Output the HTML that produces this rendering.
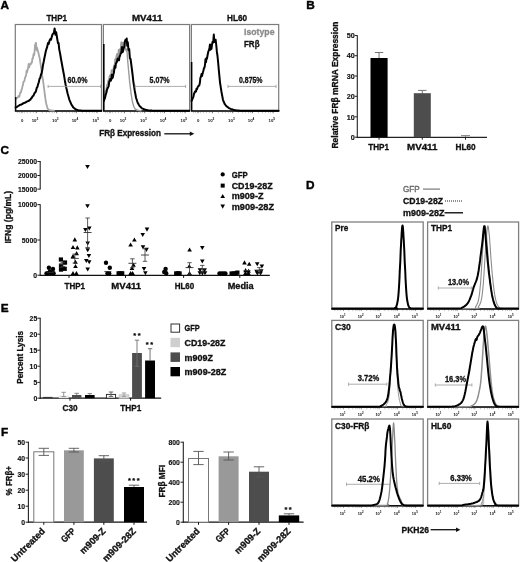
<!DOCTYPE html>
<html lang="en">
<head>
<meta charset="utf-8">
<title>Figure</title>
<style>
html,body{margin:0;padding:0;background:#fff;}
body{width:520px;height:562px;overflow:hidden;font-family:"Liberation Sans", sans-serif;}
svg{display:block;}
</style>
</head>
<body>
<svg width="520" height="562" viewBox="0 0 520 562" font-family='"Liberation Sans", sans-serif'>
<text x="0.6" y="9.2" font-size="11.8" font-weight="bold" fill="#000" stroke="#000" stroke-width="0.42">A</text>
<rect x="15.30" y="24.50" width="86.20" height="86.50" fill="none" stroke="#7c7c7c" stroke-width="1.2"/>
<rect x="103.40" y="24.50" width="86.20" height="86.50" fill="none" stroke="#7c7c7c" stroke-width="1.2"/>
<rect x="191.40" y="24.50" width="87.30" height="86.50" fill="none" stroke="#7c7c7c" stroke-width="1.2"/>
<text x="46.4" y="21.3" font-size="9.3" font-weight="bold" fill="#111" stroke="#111" stroke-width="0.33" textLength="20.6" lengthAdjust="spacingAndGlyphs">THP1</text>
<text x="132.0" y="21.3" font-size="9.3" font-weight="bold" fill="#111" stroke="#111" stroke-width="0.33" textLength="30.3" lengthAdjust="spacingAndGlyphs">MV411</text>
<text x="227.0" y="21.3" font-size="9.3" font-weight="bold" fill="#111" stroke="#111" stroke-width="0.33" textLength="20.0" lengthAdjust="spacingAndGlyphs">HL60</text>
<text x="22.1" y="121.6" font-size="4.3" font-weight="bold" fill="#111" text-anchor="middle">0</text>
<text x="35.0" y="121.6" font-size="4.3" font-weight="bold" fill="#111" text-anchor="middle">10<tspan dy="-1.6" font-size="3.2">2</tspan></text>
<text x="55.3" y="121.6" font-size="4.3" font-weight="bold" fill="#111" text-anchor="middle">10<tspan dy="-1.6" font-size="3.2">3</tspan></text>
<text x="75.0" y="121.6" font-size="4.3" font-weight="bold" fill="#111" text-anchor="middle">10<tspan dy="-1.6" font-size="3.2">4</tspan></text>
<text x="95.7" y="121.6" font-size="4.3" font-weight="bold" fill="#111" text-anchor="middle">10<tspan dy="-1.6" font-size="3.2">5</tspan></text>
<line x1="17.30" y1="111.40" x2="17.30" y2="113.20" stroke="#8a8a8a" stroke-width="0.5"/>
<line x1="19.30" y1="111.40" x2="19.30" y2="113.20" stroke="#8a8a8a" stroke-width="0.5"/>
<line x1="21.30" y1="111.40" x2="21.30" y2="113.20" stroke="#8a8a8a" stroke-width="0.5"/>
<line x1="24.30" y1="111.40" x2="24.30" y2="113.20" stroke="#8a8a8a" stroke-width="0.5"/>
<line x1="27.30" y1="111.40" x2="27.30" y2="113.20" stroke="#8a8a8a" stroke-width="0.5"/>
<line x1="30.30" y1="111.40" x2="30.30" y2="113.20" stroke="#8a8a8a" stroke-width="0.5"/>
<line x1="33.30" y1="111.40" x2="33.30" y2="113.20" stroke="#8a8a8a" stroke-width="0.5"/>
<line x1="36.30" y1="111.40" x2="36.30" y2="113.20" stroke="#8a8a8a" stroke-width="0.5"/>
<line x1="42.30" y1="111.40" x2="42.30" y2="113.20" stroke="#8a8a8a" stroke-width="0.5"/>
<line x1="46.30" y1="111.40" x2="46.30" y2="113.20" stroke="#8a8a8a" stroke-width="0.5"/>
<line x1="49.30" y1="111.40" x2="49.30" y2="113.20" stroke="#8a8a8a" stroke-width="0.5"/>
<line x1="52.30" y1="111.40" x2="52.30" y2="113.20" stroke="#8a8a8a" stroke-width="0.5"/>
<line x1="54.30" y1="111.40" x2="54.30" y2="113.20" stroke="#8a8a8a" stroke-width="0.5"/>
<line x1="56.60" y1="111.40" x2="56.60" y2="113.20" stroke="#8a8a8a" stroke-width="0.5"/>
<line x1="62.30" y1="111.40" x2="62.30" y2="113.20" stroke="#8a8a8a" stroke-width="0.5"/>
<line x1="66.30" y1="111.40" x2="66.30" y2="113.20" stroke="#8a8a8a" stroke-width="0.5"/>
<line x1="69.30" y1="111.40" x2="69.30" y2="113.20" stroke="#8a8a8a" stroke-width="0.5"/>
<line x1="72.30" y1="111.40" x2="72.30" y2="113.20" stroke="#8a8a8a" stroke-width="0.5"/>
<line x1="74.30" y1="111.40" x2="74.30" y2="113.20" stroke="#8a8a8a" stroke-width="0.5"/>
<line x1="76.30" y1="111.40" x2="76.30" y2="113.20" stroke="#8a8a8a" stroke-width="0.5"/>
<line x1="82.30" y1="111.40" x2="82.30" y2="113.20" stroke="#8a8a8a" stroke-width="0.5"/>
<line x1="86.30" y1="111.40" x2="86.30" y2="113.20" stroke="#8a8a8a" stroke-width="0.5"/>
<line x1="89.30" y1="111.40" x2="89.30" y2="113.20" stroke="#8a8a8a" stroke-width="0.5"/>
<line x1="92.30" y1="111.40" x2="92.30" y2="113.20" stroke="#8a8a8a" stroke-width="0.5"/>
<line x1="94.30" y1="111.40" x2="94.30" y2="113.20" stroke="#8a8a8a" stroke-width="0.5"/>
<line x1="97.00" y1="111.40" x2="97.00" y2="113.20" stroke="#8a8a8a" stroke-width="0.5"/>
<line x1="22.10" y1="111.40" x2="22.10" y2="113.20" stroke="#333" stroke-width="0.5"/>
<line x1="36.30" y1="111.40" x2="36.30" y2="113.20" stroke="#333" stroke-width="0.5"/>
<line x1="56.60" y1="111.40" x2="56.60" y2="113.20" stroke="#333" stroke-width="0.5"/>
<line x1="76.30" y1="111.40" x2="76.30" y2="113.20" stroke="#333" stroke-width="0.5"/>
<line x1="97.00" y1="111.40" x2="97.00" y2="113.20" stroke="#333" stroke-width="0.5"/>
<line x1="14.90" y1="111.00" x2="101.90" y2="111.00" stroke="#111" stroke-width="1.4"/>
<text x="110.2" y="121.6" font-size="4.3" font-weight="bold" fill="#111" text-anchor="middle">0</text>
<text x="123.1" y="121.6" font-size="4.3" font-weight="bold" fill="#111" text-anchor="middle">10<tspan dy="-1.6" font-size="3.2">2</tspan></text>
<text x="143.4" y="121.6" font-size="4.3" font-weight="bold" fill="#111" text-anchor="middle">10<tspan dy="-1.6" font-size="3.2">3</tspan></text>
<text x="163.1" y="121.6" font-size="4.3" font-weight="bold" fill="#111" text-anchor="middle">10<tspan dy="-1.6" font-size="3.2">4</tspan></text>
<text x="183.8" y="121.6" font-size="4.3" font-weight="bold" fill="#111" text-anchor="middle">10<tspan dy="-1.6" font-size="3.2">5</tspan></text>
<line x1="105.40" y1="111.40" x2="105.40" y2="113.20" stroke="#8a8a8a" stroke-width="0.5"/>
<line x1="107.40" y1="111.40" x2="107.40" y2="113.20" stroke="#8a8a8a" stroke-width="0.5"/>
<line x1="109.40" y1="111.40" x2="109.40" y2="113.20" stroke="#8a8a8a" stroke-width="0.5"/>
<line x1="112.40" y1="111.40" x2="112.40" y2="113.20" stroke="#8a8a8a" stroke-width="0.5"/>
<line x1="115.40" y1="111.40" x2="115.40" y2="113.20" stroke="#8a8a8a" stroke-width="0.5"/>
<line x1="118.40" y1="111.40" x2="118.40" y2="113.20" stroke="#8a8a8a" stroke-width="0.5"/>
<line x1="121.40" y1="111.40" x2="121.40" y2="113.20" stroke="#8a8a8a" stroke-width="0.5"/>
<line x1="124.40" y1="111.40" x2="124.40" y2="113.20" stroke="#8a8a8a" stroke-width="0.5"/>
<line x1="130.40" y1="111.40" x2="130.40" y2="113.20" stroke="#8a8a8a" stroke-width="0.5"/>
<line x1="134.40" y1="111.40" x2="134.40" y2="113.20" stroke="#8a8a8a" stroke-width="0.5"/>
<line x1="137.40" y1="111.40" x2="137.40" y2="113.20" stroke="#8a8a8a" stroke-width="0.5"/>
<line x1="140.40" y1="111.40" x2="140.40" y2="113.20" stroke="#8a8a8a" stroke-width="0.5"/>
<line x1="142.40" y1="111.40" x2="142.40" y2="113.20" stroke="#8a8a8a" stroke-width="0.5"/>
<line x1="144.70" y1="111.40" x2="144.70" y2="113.20" stroke="#8a8a8a" stroke-width="0.5"/>
<line x1="150.40" y1="111.40" x2="150.40" y2="113.20" stroke="#8a8a8a" stroke-width="0.5"/>
<line x1="154.40" y1="111.40" x2="154.40" y2="113.20" stroke="#8a8a8a" stroke-width="0.5"/>
<line x1="157.40" y1="111.40" x2="157.40" y2="113.20" stroke="#8a8a8a" stroke-width="0.5"/>
<line x1="160.40" y1="111.40" x2="160.40" y2="113.20" stroke="#8a8a8a" stroke-width="0.5"/>
<line x1="162.40" y1="111.40" x2="162.40" y2="113.20" stroke="#8a8a8a" stroke-width="0.5"/>
<line x1="164.40" y1="111.40" x2="164.40" y2="113.20" stroke="#8a8a8a" stroke-width="0.5"/>
<line x1="170.40" y1="111.40" x2="170.40" y2="113.20" stroke="#8a8a8a" stroke-width="0.5"/>
<line x1="174.40" y1="111.40" x2="174.40" y2="113.20" stroke="#8a8a8a" stroke-width="0.5"/>
<line x1="177.40" y1="111.40" x2="177.40" y2="113.20" stroke="#8a8a8a" stroke-width="0.5"/>
<line x1="180.40" y1="111.40" x2="180.40" y2="113.20" stroke="#8a8a8a" stroke-width="0.5"/>
<line x1="182.40" y1="111.40" x2="182.40" y2="113.20" stroke="#8a8a8a" stroke-width="0.5"/>
<line x1="185.10" y1="111.40" x2="185.10" y2="113.20" stroke="#8a8a8a" stroke-width="0.5"/>
<line x1="110.20" y1="111.40" x2="110.20" y2="113.20" stroke="#333" stroke-width="0.5"/>
<line x1="124.40" y1="111.40" x2="124.40" y2="113.20" stroke="#333" stroke-width="0.5"/>
<line x1="144.70" y1="111.40" x2="144.70" y2="113.20" stroke="#333" stroke-width="0.5"/>
<line x1="164.40" y1="111.40" x2="164.40" y2="113.20" stroke="#333" stroke-width="0.5"/>
<line x1="185.10" y1="111.40" x2="185.10" y2="113.20" stroke="#333" stroke-width="0.5"/>
<line x1="103.00" y1="111.00" x2="190.00" y2="111.00" stroke="#111" stroke-width="1.4"/>
<text x="198.2" y="121.6" font-size="4.3" font-weight="bold" fill="#111" text-anchor="middle">0</text>
<text x="211.1" y="121.6" font-size="4.3" font-weight="bold" fill="#111" text-anchor="middle">10<tspan dy="-1.6" font-size="3.2">2</tspan></text>
<text x="231.4" y="121.6" font-size="4.3" font-weight="bold" fill="#111" text-anchor="middle">10<tspan dy="-1.6" font-size="3.2">3</tspan></text>
<text x="251.1" y="121.6" font-size="4.3" font-weight="bold" fill="#111" text-anchor="middle">10<tspan dy="-1.6" font-size="3.2">4</tspan></text>
<text x="271.8" y="121.6" font-size="4.3" font-weight="bold" fill="#111" text-anchor="middle">10<tspan dy="-1.6" font-size="3.2">5</tspan></text>
<line x1="193.40" y1="111.40" x2="193.40" y2="113.20" stroke="#8a8a8a" stroke-width="0.5"/>
<line x1="195.40" y1="111.40" x2="195.40" y2="113.20" stroke="#8a8a8a" stroke-width="0.5"/>
<line x1="197.40" y1="111.40" x2="197.40" y2="113.20" stroke="#8a8a8a" stroke-width="0.5"/>
<line x1="200.40" y1="111.40" x2="200.40" y2="113.20" stroke="#8a8a8a" stroke-width="0.5"/>
<line x1="203.40" y1="111.40" x2="203.40" y2="113.20" stroke="#8a8a8a" stroke-width="0.5"/>
<line x1="206.40" y1="111.40" x2="206.40" y2="113.20" stroke="#8a8a8a" stroke-width="0.5"/>
<line x1="209.40" y1="111.40" x2="209.40" y2="113.20" stroke="#8a8a8a" stroke-width="0.5"/>
<line x1="212.40" y1="111.40" x2="212.40" y2="113.20" stroke="#8a8a8a" stroke-width="0.5"/>
<line x1="218.40" y1="111.40" x2="218.40" y2="113.20" stroke="#8a8a8a" stroke-width="0.5"/>
<line x1="222.40" y1="111.40" x2="222.40" y2="113.20" stroke="#8a8a8a" stroke-width="0.5"/>
<line x1="225.40" y1="111.40" x2="225.40" y2="113.20" stroke="#8a8a8a" stroke-width="0.5"/>
<line x1="228.40" y1="111.40" x2="228.40" y2="113.20" stroke="#8a8a8a" stroke-width="0.5"/>
<line x1="230.40" y1="111.40" x2="230.40" y2="113.20" stroke="#8a8a8a" stroke-width="0.5"/>
<line x1="232.70" y1="111.40" x2="232.70" y2="113.20" stroke="#8a8a8a" stroke-width="0.5"/>
<line x1="238.40" y1="111.40" x2="238.40" y2="113.20" stroke="#8a8a8a" stroke-width="0.5"/>
<line x1="242.40" y1="111.40" x2="242.40" y2="113.20" stroke="#8a8a8a" stroke-width="0.5"/>
<line x1="245.40" y1="111.40" x2="245.40" y2="113.20" stroke="#8a8a8a" stroke-width="0.5"/>
<line x1="248.40" y1="111.40" x2="248.40" y2="113.20" stroke="#8a8a8a" stroke-width="0.5"/>
<line x1="250.40" y1="111.40" x2="250.40" y2="113.20" stroke="#8a8a8a" stroke-width="0.5"/>
<line x1="252.40" y1="111.40" x2="252.40" y2="113.20" stroke="#8a8a8a" stroke-width="0.5"/>
<line x1="258.40" y1="111.40" x2="258.40" y2="113.20" stroke="#8a8a8a" stroke-width="0.5"/>
<line x1="262.40" y1="111.40" x2="262.40" y2="113.20" stroke="#8a8a8a" stroke-width="0.5"/>
<line x1="265.40" y1="111.40" x2="265.40" y2="113.20" stroke="#8a8a8a" stroke-width="0.5"/>
<line x1="268.40" y1="111.40" x2="268.40" y2="113.20" stroke="#8a8a8a" stroke-width="0.5"/>
<line x1="270.40" y1="111.40" x2="270.40" y2="113.20" stroke="#8a8a8a" stroke-width="0.5"/>
<line x1="273.10" y1="111.40" x2="273.10" y2="113.20" stroke="#8a8a8a" stroke-width="0.5"/>
<line x1="198.20" y1="111.40" x2="198.20" y2="113.20" stroke="#333" stroke-width="0.5"/>
<line x1="212.40" y1="111.40" x2="212.40" y2="113.20" stroke="#333" stroke-width="0.5"/>
<line x1="232.70" y1="111.40" x2="232.70" y2="113.20" stroke="#333" stroke-width="0.5"/>
<line x1="252.40" y1="111.40" x2="252.40" y2="113.20" stroke="#333" stroke-width="0.5"/>
<line x1="273.10" y1="111.40" x2="273.10" y2="113.20" stroke="#333" stroke-width="0.5"/>
<line x1="191.00" y1="111.00" x2="279.10" y2="111.00" stroke="#111" stroke-width="1.4"/>
<polyline points="15.6,98.6 16.1,98.6 16.7,97.9 17.2,97.9 17.8,97.5 18.3,96.1 18.9,95.6 19.4,96.6 19.9,93.9 20.4,92.2 21.0,92.4 21.5,89.5 22.0,88.9 22.5,86.2 23.0,84.9 23.5,81.6 24.0,81.5 24.5,80.7 25.0,77.6 25.5,76.9 26.1,75.1 26.6,70.7 27.1,72.4 27.6,70.0 28.2,67.0 28.7,63.9 29.2,67.3 29.8,64.1 30.3,64.5 30.8,64.4 31.3,62.4 31.9,62.6 32.4,58.3 32.9,58.7 33.5,54.1 34.0,55.3 34.5,52.8 35.0,45.3 35.5,43.9 36.0,42.8 36.6,50.3 37.2,47.9 37.8,50.9 38.3,52.2 38.8,54.5 39.3,56.8 39.8,59.0 40.4,63.0 41.0,67.0 41.6,71.0 42.2,75.3 42.9,79.7 43.5,84.0 44.0,88.0 44.5,92.0 45.0,96.0 45.6,100.0 46.3,104.0 47.0,106.2 47.6,108.5 48.2,109.1 48.9,109.7 49.5,110.3 50.0,110.4 50.5,110.4 51.0,110.5 51.5,110.5 52.0,110.6 52.5,110.6 53.0,110.7 53.5,110.7 54.0,110.8" fill="none" stroke="#a6a6a6" stroke-width="1.8" stroke-linejoin="round" stroke-linecap="round"/>
<polyline points="15.6,107.5 16.3,107.2 17.0,106.8 17.6,106.4 18.3,106.0 19.0,105.6 19.7,105.0 20.4,104.8 21.1,104.7 21.7,104.2 22.4,104.0 23.1,103.3 23.8,103.2 24.4,102.8 25.1,102.7 25.7,102.4 26.4,101.8 27.0,101.6 27.7,101.2 28.4,101.1 29.1,100.6 29.8,99.7 30.5,99.7 31.1,98.4 31.7,98.0 32.3,96.8 32.9,95.9 33.5,95.8 34.1,94.0 34.8,92.7 35.4,92.3 36.0,91.0 36.7,88.1 37.4,86.9 38.1,84.2 38.8,82.3 39.5,78.9 40.2,77.9 40.9,74.9 41.6,73.1 42.3,69.7 43.0,65.0 43.7,61.8 44.4,58.0 45.1,54.7 45.8,51.2 46.5,48.9 47.2,46.9 48.0,42.9 48.7,43.9 49.5,40.8 50.3,39.1 51.0,39.8 51.8,36.7 52.5,34.4 53.2,33.6 53.9,33.0 54.6,28.4 55.4,34.7 56.2,32.3 57.4,39.8 58.0,43.2 58.6,43.0 59.2,49.1 60.1,53.5 61.0,59.0 61.8,63.3 62.6,67.7 63.4,72.0 64.2,76.3 64.9,80.7 65.7,85.0 66.3,87.8 67.0,90.7 67.6,93.5 68.2,95.6 68.8,97.7 69.4,99.8 70.3,101.9 71.2,104.0 71.8,105.1 72.5,106.1 73.1,107.2 73.7,107.7 74.3,108.2 74.9,108.7 75.5,109.2 76.1,109.4 76.8,109.7 77.4,109.9 78.1,110.2 78.7,110.4 79.4,110.5 80.0,110.5 80.7,110.5 81.3,110.6 82.0,110.7 82.7,110.7 83.3,110.8 84.0,110.8 84.6,110.8 85.2,110.8 85.9,110.8 86.5,110.8 87.1,110.8 87.7,110.8 88.3,110.8 88.9,110.8 89.6,110.8 90.2,110.8 90.8,110.8 91.4,110.8 92.0,110.8 92.7,110.8 93.3,110.8 93.9,110.8 94.5,110.8 95.1,110.8 95.7,110.8 96.4,110.8 97.0,110.8 97.6,110.8 98.2,110.8 98.8,110.8 99.4,110.8 100.1,110.8 100.7,110.8 101.3,110.8" fill="none" stroke="#000" stroke-width="2.0" stroke-linejoin="round" stroke-linecap="round"/>
<line x1="15.70" y1="97.00" x2="15.70" y2="110.80" stroke="#000" stroke-width="1.3"/>
<line x1="48.10" y1="86.40" x2="100.50" y2="86.40" stroke="#a4a4a4" stroke-width="0.9"/>
<line x1="48.10" y1="84.80" x2="48.10" y2="88.00" stroke="#a4a4a4" stroke-width="0.9"/>
<line x1="100.50" y1="84.80" x2="100.50" y2="88.00" stroke="#a4a4a4" stroke-width="0.9"/>
<text x="67.5" y="83.2" font-size="8.4" font-weight="bold" fill="#111" stroke="#111" stroke-width="0.30" textLength="20.0" lengthAdjust="spacingAndGlyphs">60.0%</text>
<polyline points="103.8,98.6 104.3,95.9 104.9,95.0 105.4,91.0 106.0,90.3 106.5,87.4 107.1,84.2 107.6,84.4 108.2,80.2 108.7,80.4 109.3,76.5 109.8,75.1 110.3,75.6 110.8,76.8 111.3,70.7 111.9,69.8 112.4,71.3 112.9,72.3 113.4,68.0 113.9,65.2 114.4,68.5 114.9,59.2 115.4,64.8 115.9,58.3 116.5,55.4 117.0,53.6 117.5,54.0 118.0,57.7 118.5,49.7 119.0,52.9 119.5,52.5 120.0,48.6 120.5,49.5 121.0,43.0 121.5,41.9 122.0,42.6 122.5,47.6 123.0,44.1 123.5,42.3 124.0,45.0 124.5,42.9 125.0,40.5 125.6,49.3 126.3,51.0 126.9,48.9 127.5,58.8 128.2,66.0 128.9,73.7 129.6,81.3 130.3,87.2 131.0,93.0 131.7,97.3 132.4,101.6 133.1,104.0 133.8,106.5 134.5,107.8 135.2,109.0 135.8,109.3 136.3,109.7 136.9,110.0 137.5,110.3 138.0,110.4 138.5,110.4 139.0,110.5 139.5,110.6 140.0,110.7 140.5,110.7 141.0,110.8" fill="none" stroke="#9a9a9a" stroke-width="1.4" stroke-linejoin="round" stroke-linecap="round"/>
<polyline points="103.9,100.9 104.4,99.3 104.9,98.3 105.5,95.5 106.0,93.8 106.5,92.2 107.1,89.2 107.6,88.4 108.2,87.1 108.7,86.0 109.3,81.3 109.8,80.9 110.3,78.7 110.8,80.8 111.3,79.1 111.9,74.5 112.4,78.2 112.9,77.0 113.4,74.1 113.9,72.7 114.4,68.5 114.9,66.1 115.4,67.9 115.9,63.3 116.5,62.6 117.0,61.5 117.5,58.4 118.0,60.2 118.5,58.5 119.0,60.3 119.5,56.4 120.0,56.0 120.5,53.4 121.0,53.4 121.5,50.1 122.0,46.9 122.6,52.2 123.1,50.8 123.7,48.5 124.3,46.3 124.9,41.5 125.5,39.7 126.1,40.5 126.7,38.5 127.2,45.8 127.8,42.3 128.5,50.0 129.2,49.0 129.9,58.4 130.6,59.0 131.3,64.5 132.0,70.0 132.7,75.7 133.3,81.3 134.0,85.9 134.7,90.5 135.4,94.2 136.1,98.0 136.7,99.7 137.2,101.3 137.8,103.0 138.3,103.8 138.8,104.7 139.3,105.5 139.8,106.3 140.4,106.8 140.9,107.3 141.4,107.8 142.0,108.3 142.6,108.6 143.2,108.9 143.8,109.2 144.4,109.5 144.9,109.6 145.4,109.7 145.9,109.9 146.4,110.0 147.0,110.1 147.5,110.2 148.0,110.4 148.5,110.5 149.0,110.6 149.5,110.6 150.0,110.6 150.5,110.6 151.0,110.6 151.5,110.6 152.0,110.7 152.5,110.7 153.0,110.7 153.5,110.7 154.0,110.7 154.5,110.7 155.0,110.7 155.5,110.7 156.0,110.7 156.5,110.7 157.0,110.7 157.5,110.8 158.0,110.8 158.5,110.8 159.0,110.8 159.5,110.8 160.0,110.8 160.5,110.8 161.0,110.8 161.5,110.8 162.0,110.8 162.5,110.8 163.0,110.8 163.5,110.8 164.0,110.8 164.5,110.8 165.1,110.8 165.6,110.8 166.1,110.8 166.6,110.8 167.1,110.8 167.6,110.8 168.1,110.8 168.6,110.8 169.1,110.8 169.6,110.8 170.1,110.8 170.6,110.8 171.1,110.8 171.6,110.8 172.1,110.8 172.6,110.8 173.1,110.8 173.6,110.8 174.1,110.8 174.7,110.8 175.2,110.8 175.7,110.8 176.2,110.8 176.7,110.8 177.2,110.8 177.7,110.8 178.2,110.8 178.7,110.8 179.2,110.8 179.7,110.8 180.2,110.8 180.7,110.8 181.2,110.8 181.7,110.8 182.2,110.8 182.7,110.8 183.2,110.8 183.7,110.8 184.2,110.8 184.8,110.8 185.3,110.8 185.8,110.8 186.3,110.8 186.8,110.8 187.3,110.8 187.8,110.8 188.3,110.8 188.8,110.8 189.3,110.8" fill="none" stroke="#000" stroke-width="2.0" stroke-linejoin="round" stroke-linecap="round"/>
<line x1="103.80" y1="44.00" x2="103.80" y2="110.80" stroke="#000" stroke-width="1.6"/>
<line x1="135.20" y1="86.40" x2="185.60" y2="86.40" stroke="#a4a4a4" stroke-width="0.9"/>
<line x1="135.20" y1="84.80" x2="135.20" y2="88.00" stroke="#a4a4a4" stroke-width="0.9"/>
<line x1="185.60" y1="84.80" x2="185.60" y2="88.00" stroke="#a4a4a4" stroke-width="0.9"/>
<text x="149.6" y="83.2" font-size="8.4" font-weight="bold" fill="#111" stroke="#111" stroke-width="0.30" textLength="20.0" lengthAdjust="spacingAndGlyphs">5.07%</text>
<polyline points="191.6,100.6 192.2,99.7 192.8,98.1 193.4,96.9 194.0,93.7 194.5,92.9 195.0,91.7 195.5,91.0 196.0,91.6 196.5,88.8 197.1,89.1 197.7,87.0 198.2,86.3 198.8,85.7 199.3,85.4 199.9,82.5 200.4,77.7 200.9,76.9 201.5,74.1 202.0,76.1 202.5,73.9 203.0,72.0 203.5,70.3 204.0,68.0 204.5,67.6 205.0,64.6 205.5,59.2 206.0,62.2 206.5,57.9 207.0,58.6 207.5,55.5 208.0,53.0 208.5,51.0 209.0,50.2 209.5,47.7 210.0,44.4 210.5,49.7 211.0,48.2 211.5,48.8 212.0,44.5 212.6,41.7 213.2,42.5 213.8,34.5 214.4,41.9 215.0,40.9 215.6,39.7 216.2,44.5 216.9,51.9 217.5,56.0 218.2,63.0 218.8,70.0 219.4,76.2 220.0,82.5 220.5,85.7 221.0,88.8 221.5,92.0 222.0,94.7 222.5,97.3 223.0,100.0 223.5,101.3 224.1,102.5 224.6,103.8 225.2,104.5 225.7,105.3 226.3,106.0 226.9,106.5 227.4,106.9 227.9,107.3 228.5,107.8 229.1,108.1 229.6,108.4 230.2,108.6 230.7,108.9 231.3,109.2 231.8,109.3 232.4,109.5 232.9,109.6 233.4,109.8 233.9,109.9 234.5,110.1 235.0,110.2 235.5,110.2 236.0,110.3 236.5,110.4 237.0,110.4 237.5,110.5 238.0,110.5 238.5,110.5 239.0,110.6 239.5,110.7 240.0,110.7 240.5,110.7 241.0,110.7 241.5,110.7 242.0,110.7 242.5,110.7 243.0,110.7 243.5,110.7 244.0,110.7 244.5,110.7 245.0,110.7 245.5,110.7 246.0,110.7 246.5,110.7 247.0,110.7 247.5,110.7 248.0,110.7 248.5,110.7 249.0,110.7 249.5,110.7 250.0,110.7 250.5,110.7 251.0,110.7 251.5,110.7 252.0,110.7 252.5,110.7 253.0,110.7 253.5,110.7 254.0,110.7 254.5,110.7 255.0,110.7 255.5,110.7 256.0,110.7 256.5,110.7 257.0,110.7 257.5,110.7 258.0,110.7 258.5,110.7 259.0,110.7 259.6,110.8 260.1,110.8 260.6,110.8 261.1,110.8 261.6,110.8 262.1,110.8 262.6,110.8 263.1,110.8 263.6,110.8 264.1,110.8 264.6,110.8 265.1,110.8 265.6,110.8 266.1,110.8 266.6,110.8 267.1,110.8 267.6,110.8 268.1,110.8 268.6,110.8 269.1,110.8 269.6,110.8 270.1,110.8 270.6,110.8 271.1,110.8 271.6,110.8 272.1,110.8 272.6,110.8 273.1,110.8 273.6,110.8 274.1,110.8 274.6,110.8 275.1,110.8 275.6,110.8 276.1,110.8 276.6,110.8 277.1,110.8 277.6,110.8 278.1,110.8 278.6,110.8" fill="none" stroke="#000" stroke-width="2.0" stroke-linejoin="round" stroke-linecap="round"/>
<line x1="191.60" y1="62.00" x2="191.60" y2="110.80" stroke="#000" stroke-width="1.6"/>
<line x1="228.00" y1="86.40" x2="276.00" y2="86.40" stroke="#a4a4a4" stroke-width="0.9"/>
<line x1="228.00" y1="84.80" x2="228.00" y2="88.00" stroke="#a4a4a4" stroke-width="0.9"/>
<line x1="276.00" y1="84.80" x2="276.00" y2="88.00" stroke="#a4a4a4" stroke-width="0.9"/>
<text x="239.0" y="83.2" font-size="8.4" font-weight="bold" fill="#111" stroke="#111" stroke-width="0.30" textLength="23.5" lengthAdjust="spacingAndGlyphs">0.875%</text>
<text x="244.0" y="34.6" font-size="9.3" font-weight="bold" fill="#8c8c8c" stroke="#8c8c8c" stroke-width="0.33" textLength="30.5" lengthAdjust="spacingAndGlyphs">Isotype</text>
<text x="244.0" y="47.4" font-size="9.3" font-weight="bold" fill="#111" stroke="#111" stroke-width="0.33" textLength="15.5" lengthAdjust="spacingAndGlyphs">FRβ</text>
<text x="99.2" y="135.7" font-size="9.6" font-weight="bold" fill="#111" stroke="#111" stroke-width="0.35" textLength="61.8" lengthAdjust="spacingAndGlyphs">FRβ Expression</text>
<line x1="164.30" y1="133.80" x2="191.50" y2="133.80" stroke="#111" stroke-width="1.3"/>
<polygon points="194.3,133.8 189.8,131.6 189.8,136" fill="#111"/>
<text x="306.2" y="9.2" font-size="11.8" font-weight="bold" fill="#000" stroke="#000" stroke-width="0.42">B</text>
<line x1="357.30" y1="35.20" x2="357.30" y2="137.80" stroke="#222" stroke-width="1.1"/>
<line x1="356.80" y1="137.30" x2="487.00" y2="137.30" stroke="#222" stroke-width="1.2"/>
<line x1="354.70" y1="35.50" x2="357.30" y2="35.50" stroke="#222" stroke-width="1"/>
<text x="346.7" y="38.2" font-size="7.5" font-weight="bold" fill="#111" stroke="#111" stroke-width="0.16" textLength="8.0" lengthAdjust="spacingAndGlyphs">50</text>
<line x1="354.70" y1="55.70" x2="357.30" y2="55.70" stroke="#222" stroke-width="1"/>
<text x="346.7" y="58.4" font-size="7.5" font-weight="bold" fill="#111" stroke="#111" stroke-width="0.16" textLength="8.0" lengthAdjust="spacingAndGlyphs">40</text>
<line x1="354.70" y1="76.00" x2="357.30" y2="76.00" stroke="#222" stroke-width="1"/>
<text x="346.7" y="78.7" font-size="7.5" font-weight="bold" fill="#111" stroke="#111" stroke-width="0.16" textLength="8.0" lengthAdjust="spacingAndGlyphs">30</text>
<line x1="354.70" y1="96.30" x2="357.30" y2="96.30" stroke="#222" stroke-width="1"/>
<text x="346.7" y="99.0" font-size="7.5" font-weight="bold" fill="#111" stroke="#111" stroke-width="0.16" textLength="8.0" lengthAdjust="spacingAndGlyphs">20</text>
<line x1="354.70" y1="116.80" x2="357.30" y2="116.80" stroke="#222" stroke-width="1"/>
<text x="346.7" y="119.5" font-size="7.5" font-weight="bold" fill="#111" stroke="#111" stroke-width="0.16" textLength="8.0" lengthAdjust="spacingAndGlyphs">10</text>
<line x1="354.70" y1="137.20" x2="357.30" y2="137.20" stroke="#222" stroke-width="1"/>
<text x="350.7" y="139.9" font-size="7.5" font-weight="bold" fill="#111" stroke="#111" stroke-width="0.16" textLength="4.0" lengthAdjust="spacingAndGlyphs">0</text>
<line x1="379.05" y1="52.50" x2="379.05" y2="59.00" stroke="#666" stroke-width="0.9"/>
<line x1="374.85" y1="52.50" x2="383.25" y2="52.50" stroke="#666" stroke-width="0.9"/>
<rect x="370.50" y="58.00" width="17.10" height="79.30" fill="#000"/>
<line x1="379.05" y1="137.30" x2="379.05" y2="139.70" stroke="#222" stroke-width="1"/>
<line x1="422.30" y1="90.40" x2="422.30" y2="94.20" stroke="#666" stroke-width="0.9"/>
<line x1="418.10" y1="90.40" x2="426.50" y2="90.40" stroke="#666" stroke-width="0.9"/>
<rect x="413.80" y="93.20" width="17.00" height="44.10" fill="#4d4d4d"/>
<line x1="422.30" y1="137.30" x2="422.30" y2="139.70" stroke="#222" stroke-width="1"/>
<line x1="461.00" y1="135.60" x2="470.00" y2="135.60" stroke="#777" stroke-width="0.9"/>
<line x1="465.50" y1="135.60" x2="465.50" y2="137.00" stroke="#777" stroke-width="0.9"/>
<line x1="465.50" y1="137.30" x2="465.50" y2="139.70" stroke="#222" stroke-width="1"/>
<text x="368.2" y="149.5" font-size="9.4" font-weight="bold" fill="#111" stroke="#111" stroke-width="0.34" textLength="20.8" lengthAdjust="spacingAndGlyphs">THP1</text>
<text x="407.0" y="149.5" font-size="9.4" font-weight="bold" fill="#111" stroke="#111" stroke-width="0.34" textLength="30.4" lengthAdjust="spacingAndGlyphs">MV411</text>
<text x="455.5" y="149.5" font-size="9.4" font-weight="bold" fill="#111" stroke="#111" stroke-width="0.34" textLength="20.2" lengthAdjust="spacingAndGlyphs">HL60</text>
<text transform="translate(337.6 148.5) rotate(-90)" font-size="9.3" font-weight="bold" fill="#111" stroke="#111" stroke-width="0.33" textLength="127.0" lengthAdjust="spacingAndGlyphs">Relative FRβ mRNA Expression</text>
<text x="0.5" y="153.5" font-size="11.8" font-weight="bold" fill="#000" stroke="#000" stroke-width="0.42">C</text>
<line x1="40.20" y1="161.00" x2="40.20" y2="189.60" stroke="#222" stroke-width="1.1"/>
<line x1="40.20" y1="204.20" x2="40.20" y2="275.90" stroke="#222" stroke-width="1.1"/>
<line x1="39.70" y1="275.40" x2="269.80" y2="275.40" stroke="#111" stroke-width="1.3"/>
<line x1="37.40" y1="161.50" x2="40.20" y2="161.50" stroke="#222" stroke-width="1"/>
<line x1="37.40" y1="175.50" x2="40.20" y2="175.50" stroke="#222" stroke-width="1"/>
<line x1="37.40" y1="189.10" x2="40.20" y2="189.10" stroke="#222" stroke-width="1"/>
<line x1="37.40" y1="204.60" x2="40.20" y2="204.60" stroke="#222" stroke-width="1"/>
<line x1="37.40" y1="240.00" x2="40.20" y2="240.00" stroke="#222" stroke-width="1"/>
<line x1="37.40" y1="275.20" x2="40.20" y2="275.20" stroke="#222" stroke-width="1"/>
<text x="18.0" y="164.2" font-size="7.5" font-weight="bold" fill="#111" stroke="#111" stroke-width="0.16" textLength="19.0" lengthAdjust="spacingAndGlyphs">25000</text>
<text x="18.0" y="178.2" font-size="7.5" font-weight="bold" fill="#111" stroke="#111" stroke-width="0.16" textLength="19.0" lengthAdjust="spacingAndGlyphs">20000</text>
<text x="18.0" y="191.8" font-size="7.5" font-weight="bold" fill="#111" stroke="#111" stroke-width="0.16" textLength="19.0" lengthAdjust="spacingAndGlyphs">15000</text>
<text x="18.0" y="207.3" font-size="7.5" font-weight="bold" fill="#111" stroke="#111" stroke-width="0.16" textLength="19.0" lengthAdjust="spacingAndGlyphs">10000</text>
<text x="21.8" y="242.7" font-size="7.5" font-weight="bold" fill="#111" stroke="#111" stroke-width="0.16" textLength="15.2" lengthAdjust="spacingAndGlyphs">5000</text>
<text x="33.2" y="277.9" font-size="7.5" font-weight="bold" fill="#111" stroke="#111" stroke-width="0.16" textLength="3.8" lengthAdjust="spacingAndGlyphs">0</text>
<text transform="translate(11.0 243.6) rotate(-90)" font-size="9.3" font-weight="bold" fill="#111" stroke="#111" stroke-width="0.33" textLength="52.8" lengthAdjust="spacingAndGlyphs">IFNg (pg/mL)</text>
<text x="64.5" y="288.6" font-size="9.3" font-weight="bold" fill="#111" stroke="#111" stroke-width="0.33" textLength="20.6" lengthAdjust="spacingAndGlyphs">THP1</text>
<text x="111.3" y="288.6" font-size="9.3" font-weight="bold" fill="#111" stroke="#111" stroke-width="0.33" textLength="29.8" lengthAdjust="spacingAndGlyphs">MV411</text>
<text x="174.7" y="288.6" font-size="9.3" font-weight="bold" fill="#111" stroke="#111" stroke-width="0.33" textLength="19.6" lengthAdjust="spacingAndGlyphs">HL60</text>
<text x="227.7" y="288.6" font-size="9.3" font-weight="bold" fill="#111" stroke="#111" stroke-width="0.33" textLength="26.0" lengthAdjust="spacingAndGlyphs">Media</text>
<line x1="69.00" y1="275.40" x2="69.00" y2="277.90" stroke="#111" stroke-width="1"/>
<line x1="125.50" y1="275.40" x2="125.50" y2="277.90" stroke="#111" stroke-width="1"/>
<line x1="183.60" y1="275.40" x2="183.60" y2="277.90" stroke="#111" stroke-width="1"/>
<line x1="239.80" y1="275.40" x2="239.80" y2="277.90" stroke="#111" stroke-width="1"/>
<circle cx="48.9" cy="267.8" r="2.2" fill="#000"/>
<circle cx="53.0" cy="269.0" r="2.2" fill="#000"/>
<circle cx="48.4" cy="273.0" r="2.2" fill="#000"/>
<circle cx="51.6" cy="273.3" r="2.2" fill="#000"/>
<circle cx="50.0" cy="271.4" r="2.2" fill="#000"/>
<circle cx="53.6" cy="273.3" r="2.2" fill="#000"/>
<circle cx="46.5" cy="273.5" r="2.2" fill="#000"/>
<line x1="46.80" y1="272.30" x2="53.80" y2="272.30" stroke="#333" stroke-width="0.9"/>
<rect x="58.8" y="257.4" width="4.2" height="4.2" fill="#000"/>
<rect x="62.9" y="260.4" width="4.2" height="4.2" fill="#000"/>
<rect x="58.9" y="263.5" width="4.2" height="4.2" fill="#000"/>
<rect x="58.9" y="267.5" width="4.2" height="4.2" fill="#000"/>
<rect x="62.6" y="266.7" width="4.2" height="4.2" fill="#000"/>
<line x1="59.20" y1="264.60" x2="66.40" y2="264.60" stroke="#333" stroke-width="0.9"/>
<line x1="62.80" y1="262.60" x2="62.80" y2="266.60" stroke="#333" stroke-width="0.8"/>
<line x1="60.60" y1="262.60" x2="65.00" y2="262.60" stroke="#333" stroke-width="0.8"/>
<line x1="60.60" y1="266.60" x2="65.00" y2="266.60" stroke="#333" stroke-width="0.8"/>
<polygon points="74.8,237.3 72.5,241.4 77.1,241.4" fill="#000"/>
<polygon points="73.0,244.9 70.7,249.0 75.3,249.0" fill="#000"/>
<polygon points="77.3,245.3 75.0,249.4 79.6,249.4" fill="#000"/>
<polygon points="76.6,251.1 74.3,255.2 78.9,255.2" fill="#000"/>
<polygon points="73.0,253.9 70.7,258.0 75.3,258.0" fill="#000"/>
<polygon points="75.5,259.7 73.2,263.8 77.8,263.8" fill="#000"/>
<polygon points="75.5,263.9 73.2,268.0 77.8,268.0" fill="#000"/>
<polygon points="73.0,270.9 70.7,275.0 75.3,275.0" fill="#000"/>
<polygon points="76.4,270.9 74.1,275.0 78.7,275.0" fill="#000"/>
<line x1="70.80" y1="258.40" x2="78.80" y2="258.40" stroke="#333" stroke-width="0.9"/>
<line x1="74.80" y1="254.00" x2="74.80" y2="263.00" stroke="#333" stroke-width="0.8"/>
<line x1="72.60" y1="254.00" x2="77.00" y2="254.00" stroke="#333" stroke-width="0.8"/>
<line x1="72.60" y1="263.00" x2="77.00" y2="263.00" stroke="#333" stroke-width="0.8"/>
<polygon points="87.5,169.1 85.2,165.0 89.8,165.0" fill="#000"/>
<polygon points="87.5,208.3 85.2,204.2 89.8,204.2" fill="#000"/>
<polygon points="89.3,230.6 87.0,226.5 91.6,226.5" fill="#000"/>
<polygon points="85.4,232.1 83.1,228.0 87.7,228.0" fill="#000"/>
<polygon points="87.7,245.6 85.4,241.5 90.0,241.5" fill="#000"/>
<polygon points="87.7,252.3 85.4,248.2 90.0,248.2" fill="#000"/>
<polygon points="88.9,258.1 86.6,254.0 91.2,254.0" fill="#000"/>
<polygon points="86.3,263.1 84.0,259.0 88.6,259.0" fill="#000"/>
<polygon points="89.2,264.3 86.9,260.2 91.5,260.2" fill="#000"/>
<polygon points="87.7,271.6 85.4,267.5 90.0,267.5" fill="#000"/>
<line x1="83.60" y1="232.50" x2="91.60" y2="232.50" stroke="#333" stroke-width="0.9"/>
<line x1="87.60" y1="218.00" x2="87.60" y2="247.50" stroke="#333" stroke-width="0.8"/>
<line x1="85.40" y1="218.00" x2="89.80" y2="218.00" stroke="#333" stroke-width="0.8"/>
<line x1="85.40" y1="247.50" x2="89.80" y2="247.50" stroke="#333" stroke-width="0.8"/>
<circle cx="106.0" cy="262.7" r="2.2" fill="#000"/>
<circle cx="109.8" cy="267.7" r="2.2" fill="#000"/>
<circle cx="107.5" cy="273.2" r="2.2" fill="#000"/>
<circle cx="109.2" cy="273.4" r="2.2" fill="#000"/>
<line x1="104.30" y1="271.60" x2="111.30" y2="271.60" stroke="#333" stroke-width="0.9"/>
<rect x="116.5" y="271.2" width="4.2" height="4.2" fill="#000"/>
<rect x="118.3" y="271.3" width="4.2" height="4.2" fill="#000"/>
<rect x="120.1" y="271.2" width="4.2" height="4.2" fill="#000"/>
<polygon points="134.4,237.5 132.1,241.6 136.7,241.6" fill="#000"/>
<polygon points="130.6,242.5 128.3,246.6 132.9,246.6" fill="#000"/>
<polygon points="133.5,262.7 131.2,266.8 135.8,266.8" fill="#000"/>
<polygon points="132.0,265.9 129.7,270.0 134.3,270.0" fill="#000"/>
<polygon points="132.6,270.9 130.3,275.0 134.9,275.0" fill="#000"/>
<polygon points="130.6,270.9 128.3,275.0 132.9,275.0" fill="#000"/>
<line x1="128.40" y1="263.30" x2="136.40" y2="263.30" stroke="#333" stroke-width="0.9"/>
<line x1="132.40" y1="258.80" x2="132.40" y2="267.70" stroke="#333" stroke-width="0.8"/>
<line x1="130.20" y1="258.80" x2="134.60" y2="258.80" stroke="#333" stroke-width="0.8"/>
<line x1="130.20" y1="267.70" x2="134.60" y2="267.70" stroke="#333" stroke-width="0.8"/>
<polygon points="147.0,231.7 144.7,227.6 149.3,227.6" fill="#000"/>
<polygon points="142.7,237.1 140.4,233.0 145.0,233.0" fill="#000"/>
<polygon points="143.0,249.3 140.7,245.2 145.3,245.2" fill="#000"/>
<polygon points="146.5,251.9 144.2,247.8 148.8,247.8" fill="#000"/>
<polygon points="144.0,271.1 141.7,267.0 146.3,267.0" fill="#000"/>
<polygon points="145.4,275.3 143.1,271.2 147.7,271.2" fill="#000"/>
<line x1="141.00" y1="255.00" x2="149.00" y2="255.00" stroke="#333" stroke-width="0.9"/>
<line x1="145.00" y1="248.80" x2="145.00" y2="261.30" stroke="#333" stroke-width="0.8"/>
<line x1="142.80" y1="248.80" x2="147.20" y2="248.80" stroke="#333" stroke-width="0.8"/>
<line x1="142.80" y1="261.30" x2="147.20" y2="261.30" stroke="#333" stroke-width="0.8"/>
<circle cx="165.6" cy="269.0" r="2.2" fill="#000"/>
<circle cx="164.2" cy="272.0" r="2.2" fill="#000"/>
<circle cx="166.2" cy="273.3" r="2.2" fill="#000"/>
<rect x="174.1" y="271.3" width="4.2" height="4.2" fill="#000"/>
<rect x="175.9" y="271.3" width="4.2" height="4.2" fill="#000"/>
<rect x="177.5" y="271.3" width="4.2" height="4.2" fill="#000"/>
<polygon points="189.6,247.5 187.3,251.6 191.9,251.6" fill="#000"/>
<polygon points="189.3,263.9 187.0,268.0 191.6,268.0" fill="#000"/>
<polygon points="189.5,270.9 187.2,275.0 191.8,275.0" fill="#000"/>
<line x1="185.50" y1="267.60" x2="193.50" y2="267.60" stroke="#333" stroke-width="0.9"/>
<line x1="189.50" y1="262.70" x2="189.50" y2="274.50" stroke="#333" stroke-width="0.8"/>
<line x1="187.30" y1="262.70" x2="191.70" y2="262.70" stroke="#333" stroke-width="0.8"/>
<line x1="187.30" y1="274.50" x2="191.70" y2="274.50" stroke="#333" stroke-width="0.8"/>
<polygon points="202.3,250.1 200.0,246.0 204.6,246.0" fill="#000"/>
<polygon points="202.3,263.6 200.0,259.5 204.6,259.5" fill="#000"/>
<polygon points="200.0,272.3 197.7,268.2 202.3,268.2" fill="#000"/>
<polygon points="204.5,272.5 202.2,268.4 206.8,268.4" fill="#000"/>
<polygon points="199.8,275.3 197.5,271.2 202.1,271.2" fill="#000"/>
<polygon points="202.4,275.5 200.1,271.4 204.7,271.4" fill="#000"/>
<polygon points="205.0,275.3 202.7,271.2 207.3,271.2" fill="#000"/>
<line x1="198.30" y1="268.80" x2="206.30" y2="268.80" stroke="#333" stroke-width="0.9"/>
<line x1="202.30" y1="265.40" x2="202.30" y2="272.30" stroke="#333" stroke-width="0.8"/>
<line x1="200.10" y1="265.40" x2="204.50" y2="265.40" stroke="#333" stroke-width="0.8"/>
<line x1="200.10" y1="272.30" x2="204.50" y2="272.30" stroke="#333" stroke-width="0.8"/>
<circle cx="219.5" cy="273.4" r="2.2" fill="#000"/>
<circle cx="221.6" cy="273.4" r="2.2" fill="#000"/>
<circle cx="223.6" cy="273.4" r="2.2" fill="#000"/>
<circle cx="225.4" cy="273.4" r="2.2" fill="#000"/>
<rect x="229.5" y="271.4" width="4.2" height="4.2" fill="#000"/>
<rect x="231.5" y="271.4" width="4.2" height="4.2" fill="#000"/>
<rect x="233.5" y="271.2" width="4.2" height="4.2" fill="#000"/>
<rect x="235.3" y="270.5" width="4.2" height="4.2" fill="#000"/>
<polygon points="244.5,260.3 242.2,264.4 246.8,264.4" fill="#000"/>
<polygon points="249.2,261.7 246.9,265.8 251.5,265.8" fill="#000"/>
<polygon points="245.6,268.1 243.3,272.2 247.9,272.2" fill="#000"/>
<polygon points="248.6,268.7 246.3,272.8 250.9,272.8" fill="#000"/>
<polygon points="245.4,270.9 243.1,275.0 247.7,275.0" fill="#000"/>
<polygon points="248.4,271.0 246.1,275.1 250.7,275.1" fill="#000"/>
<line x1="243.50" y1="270.60" x2="250.50" y2="270.60" stroke="#333" stroke-width="0.9"/>
<polygon points="257.2,266.3 254.9,262.2 259.5,262.2" fill="#000"/>
<polygon points="261.9,268.6 259.6,264.5 264.2,264.5" fill="#000"/>
<polygon points="256.6,273.9 254.3,269.8 258.9,269.8" fill="#000"/>
<polygon points="261.2,273.3 258.9,269.2 263.5,269.2" fill="#000"/>
<polygon points="257.4,275.5 255.1,271.4 259.7,271.4" fill="#000"/>
<polygon points="260.6,275.5 258.3,271.4 262.9,271.4" fill="#000"/>
<line x1="255.80" y1="270.40" x2="262.80" y2="270.40" stroke="#333" stroke-width="0.9"/>
<line x1="259.30" y1="267.60" x2="259.30" y2="273.20" stroke="#333" stroke-width="0.8"/>
<line x1="257.10" y1="267.60" x2="261.50" y2="267.60" stroke="#333" stroke-width="0.8"/>
<line x1="257.10" y1="273.20" x2="261.50" y2="273.20" stroke="#333" stroke-width="0.8"/>
<circle cx="222.7" cy="174.4" r="2.1" fill="#000"/>
<rect x="220.7" y="183.6" width="4" height="4" fill="#000"/>
<polygon points="222.7,194.0 220.4,198.1 225.0,198.1" fill="#000"/>
<polygon points="222.7,208.7 220.4,204.6 225.0,204.6" fill="#000"/>
<text x="231.7" y="177.6" font-size="9.3" font-weight="bold" fill="#111" stroke="#111" stroke-width="0.33" textLength="16.0" lengthAdjust="spacingAndGlyphs">GFP</text>
<text x="231.7" y="188.8" font-size="9.3" font-weight="bold" fill="#111" stroke="#111" stroke-width="0.33" textLength="41.0" lengthAdjust="spacingAndGlyphs">CD19-28Z</text>
<text x="231.7" y="199.4" font-size="9.3" font-weight="bold" fill="#111" stroke="#111" stroke-width="0.33" textLength="31.8" lengthAdjust="spacingAndGlyphs">m909-Z</text>
<text x="231.7" y="210.3" font-size="9.3" font-weight="bold" fill="#111" stroke="#111" stroke-width="0.33" textLength="42.3" lengthAdjust="spacingAndGlyphs">m909-28Z</text>
<text x="0.8" y="311.6" font-size="11.8" font-weight="bold" fill="#000" stroke="#000" stroke-width="0.42">E</text>
<line x1="40.20" y1="317.80" x2="40.20" y2="398.70" stroke="#222" stroke-width="1.1"/>
<line x1="39.70" y1="398.20" x2="161.20" y2="398.20" stroke="#111" stroke-width="1.3"/>
<line x1="37.40" y1="318.20" x2="40.20" y2="318.20" stroke="#222" stroke-width="1"/>
<line x1="37.40" y1="334.20" x2="40.20" y2="334.20" stroke="#222" stroke-width="1"/>
<line x1="37.40" y1="350.20" x2="40.20" y2="350.20" stroke="#222" stroke-width="1"/>
<line x1="37.40" y1="366.20" x2="40.20" y2="366.20" stroke="#222" stroke-width="1"/>
<line x1="37.40" y1="382.40" x2="40.20" y2="382.40" stroke="#222" stroke-width="1"/>
<line x1="37.40" y1="398.20" x2="40.20" y2="398.20" stroke="#222" stroke-width="1"/>
<text x="29.6" y="320.9" font-size="7.5" font-weight="bold" fill="#111" stroke="#111" stroke-width="0.16" textLength="7.6" lengthAdjust="spacingAndGlyphs">25</text>
<text x="29.6" y="336.9" font-size="7.5" font-weight="bold" fill="#111" stroke="#111" stroke-width="0.16" textLength="7.6" lengthAdjust="spacingAndGlyphs">20</text>
<text x="29.6" y="352.9" font-size="7.5" font-weight="bold" fill="#111" stroke="#111" stroke-width="0.16" textLength="7.6" lengthAdjust="spacingAndGlyphs">15</text>
<text x="29.6" y="368.9" font-size="7.5" font-weight="bold" fill="#111" stroke="#111" stroke-width="0.16" textLength="7.6" lengthAdjust="spacingAndGlyphs">10</text>
<text x="33.4" y="385.1" font-size="7.5" font-weight="bold" fill="#111" stroke="#111" stroke-width="0.16" textLength="3.8" lengthAdjust="spacingAndGlyphs">5</text>
<text x="33.4" y="400.9" font-size="7.5" font-weight="bold" fill="#111" stroke="#111" stroke-width="0.16" textLength="3.8" lengthAdjust="spacingAndGlyphs">0</text>
<text transform="translate(23.4 383.8) rotate(-90)" font-size="9.3" font-weight="bold" fill="#111" stroke="#111" stroke-width="0.33" textLength="52.8" lengthAdjust="spacingAndGlyphs">Percent Lysis</text>
<line x1="43.00" y1="397.40" x2="52.50" y2="397.40" stroke="#222" stroke-width="0.9"/>
<rect x="58.80" y="395.60" width="9.80" height="2.60" fill="#e6e6e6"/>
<line x1="63.70" y1="392.30" x2="63.70" y2="396.60" stroke="#8a8a8a" stroke-width="0.9"/>
<line x1="61.50" y1="392.30" x2="65.90" y2="392.30" stroke="#8a8a8a" stroke-width="0.9"/>
<line x1="61.50" y1="396.60" x2="65.90" y2="396.60" stroke="#8a8a8a" stroke-width="0.9"/>
<rect x="72.00" y="395.00" width="9.40" height="3.20" fill="#4d4d4d"/>
<line x1="76.70" y1="393.30" x2="76.70" y2="395.00" stroke="#777" stroke-width="0.9"/>
<line x1="74.50" y1="393.30" x2="78.90" y2="393.30" stroke="#777" stroke-width="0.9"/>
<rect x="85.00" y="395.00" width="9.60" height="3.20" fill="#000"/>
<line x1="89.80" y1="393.60" x2="89.80" y2="395.00" stroke="#777" stroke-width="0.9"/>
<line x1="87.60" y1="393.60" x2="92.00" y2="393.60" stroke="#777" stroke-width="0.9"/>
<rect x="106.40" y="394.40" width="9.20" height="3.80" fill="#fff" stroke="#222" stroke-width="0.9"/>
<line x1="111.00" y1="392.00" x2="111.00" y2="396.40" stroke="#555" stroke-width="0.9"/>
<line x1="108.80" y1="392.00" x2="113.20" y2="392.00" stroke="#555" stroke-width="0.9"/>
<line x1="108.80" y1="396.40" x2="113.20" y2="396.40" stroke="#555" stroke-width="0.9"/>
<rect x="119.20" y="394.80" width="9.60" height="3.40" fill="#d9d9d9" stroke="#c4c4c4" stroke-width="0.9"/>
<line x1="124.00" y1="393.00" x2="124.00" y2="396.40" stroke="#999" stroke-width="0.9"/>
<line x1="121.80" y1="393.00" x2="126.20" y2="393.00" stroke="#999" stroke-width="0.9"/>
<line x1="121.80" y1="396.40" x2="126.20" y2="396.40" stroke="#999" stroke-width="0.9"/>
<rect x="132.10" y="353.00" width="9.80" height="45.20" fill="#4d4d4d"/>
<line x1="137.00" y1="340.20" x2="137.00" y2="366.30" stroke="#707070" stroke-width="0.9"/>
<line x1="134.80" y1="340.20" x2="139.20" y2="340.20" stroke="#707070" stroke-width="0.9"/>
<line x1="134.80" y1="366.30" x2="139.20" y2="366.30" stroke="#707070" stroke-width="0.9"/>
<rect x="145.10" y="360.50" width="9.90" height="37.70" fill="#000"/>
<line x1="150.05" y1="348.70" x2="150.05" y2="360.50" stroke="#666" stroke-width="0.9"/>
<line x1="147.85" y1="348.70" x2="152.25" y2="348.70" stroke="#666" stroke-width="0.9"/>
<line x1="70.00" y1="398.20" x2="70.00" y2="400.70" stroke="#111" stroke-width="1"/>
<line x1="130.60" y1="398.20" x2="130.60" y2="400.70" stroke="#111" stroke-width="1"/>
<text x="134.8" y="338.0" font-size="7.4" font-weight="bold" fill="#000" stroke="#000" stroke-width="0.16" text-anchor="middle">*</text>
<text x="139.2" y="338.0" font-size="7.4" font-weight="bold" fill="#000" stroke="#000" stroke-width="0.16" text-anchor="middle">*</text>
<text x="147.2" y="346.8" font-size="7.4" font-weight="bold" fill="#000" stroke="#000" stroke-width="0.16" text-anchor="middle">*</text>
<text x="151.6" y="346.8" font-size="7.4" font-weight="bold" fill="#000" stroke="#000" stroke-width="0.16" text-anchor="middle">*</text>
<text x="62.6" y="411.0" font-size="9.3" font-weight="bold" fill="#111" stroke="#111" stroke-width="0.33" textLength="15.0" lengthAdjust="spacingAndGlyphs">C30</text>
<text x="120.3" y="411.0" font-size="9.3" font-weight="bold" fill="#111" stroke="#111" stroke-width="0.33" textLength="21.0" lengthAdjust="spacingAndGlyphs">THP1</text>
<rect x="171.00" y="324.00" width="8.60" height="8.20" fill="#fff" stroke="#333" stroke-width="1"/>
<rect x="170.50" y="337.80" width="9.50" height="9.40" fill="#cfcfcf"/>
<rect x="170.50" y="352.40" width="9.50" height="9.50" fill="#4d4d4d"/>
<rect x="170.50" y="367.00" width="9.50" height="9.30" fill="#000"/>
<text x="184.6" y="331.4" font-size="9.3" font-weight="bold" fill="#111" stroke="#111" stroke-width="0.33" textLength="15.2" lengthAdjust="spacingAndGlyphs">GFP</text>
<text x="184.6" y="345.9" font-size="9.3" font-weight="bold" fill="#111" stroke="#111" stroke-width="0.33" textLength="40.8" lengthAdjust="spacingAndGlyphs">CD19-28Z</text>
<text x="184.6" y="360.6" font-size="9.3" font-weight="bold" fill="#111" stroke="#111" stroke-width="0.33" textLength="28.4" lengthAdjust="spacingAndGlyphs">m909Z</text>
<text x="184.6" y="375.0" font-size="9.3" font-weight="bold" fill="#111" stroke="#111" stroke-width="0.33" textLength="41.6" lengthAdjust="spacingAndGlyphs">m909-28Z</text>
<text x="0.9" y="435.6" font-size="11.8" font-weight="bold" fill="#000" stroke="#000" stroke-width="0.42">F</text>
<line x1="28.40" y1="441.80" x2="28.40" y2="522.70" stroke="#222" stroke-width="1.1"/>
<line x1="27.90" y1="522.20" x2="147.00" y2="522.20" stroke="#111" stroke-width="1.3"/>
<line x1="25.60" y1="442.20" x2="28.40" y2="442.20" stroke="#222" stroke-width="1"/>
<line x1="25.60" y1="458.00" x2="28.40" y2="458.00" stroke="#222" stroke-width="1"/>
<line x1="25.60" y1="474.20" x2="28.40" y2="474.20" stroke="#222" stroke-width="1"/>
<line x1="25.60" y1="490.20" x2="28.40" y2="490.20" stroke="#222" stroke-width="1"/>
<line x1="25.60" y1="506.20" x2="28.40" y2="506.20" stroke="#222" stroke-width="1"/>
<line x1="25.60" y1="522.20" x2="28.40" y2="522.20" stroke="#222" stroke-width="1"/>
<text x="17.4" y="444.9" font-size="7.5" font-weight="bold" fill="#111" stroke="#111" stroke-width="0.16" textLength="7.6" lengthAdjust="spacingAndGlyphs">50</text>
<text x="17.4" y="460.7" font-size="7.5" font-weight="bold" fill="#111" stroke="#111" stroke-width="0.16" textLength="7.6" lengthAdjust="spacingAndGlyphs">40</text>
<text x="17.4" y="476.9" font-size="7.5" font-weight="bold" fill="#111" stroke="#111" stroke-width="0.16" textLength="7.6" lengthAdjust="spacingAndGlyphs">30</text>
<text x="17.4" y="492.9" font-size="7.5" font-weight="bold" fill="#111" stroke="#111" stroke-width="0.16" textLength="7.6" lengthAdjust="spacingAndGlyphs">20</text>
<text x="17.4" y="508.9" font-size="7.5" font-weight="bold" fill="#111" stroke="#111" stroke-width="0.16" textLength="7.6" lengthAdjust="spacingAndGlyphs">10</text>
<text x="21.2" y="524.9" font-size="7.5" font-weight="bold" fill="#111" stroke="#111" stroke-width="0.16" textLength="3.8" lengthAdjust="spacingAndGlyphs">0</text>
<text transform="translate(12.0 495.4) rotate(-90)" font-size="9.3" font-weight="bold" fill="#111" stroke="#111" stroke-width="0.33" textLength="29.4" lengthAdjust="spacingAndGlyphs">% FRβ+</text>
<rect x="33.80" y="451.80" width="20.00" height="70.40" fill="#fff" stroke="#777" stroke-width="1"/>
<line x1="43.80" y1="448.30" x2="43.80" y2="455.40" stroke="#555" stroke-width="0.9"/>
<line x1="38.60" y1="455.40" x2="49.00" y2="455.40" stroke="#555" stroke-width="0.9"/>
<line x1="38.60" y1="448.30" x2="49.00" y2="448.30" stroke="#555" stroke-width="0.9"/>
<line x1="43.80" y1="522.20" x2="43.80" y2="524.80" stroke="#111" stroke-width="1"/>
<rect x="64.00" y="450.30" width="19.80" height="71.90" fill="#999"/>
<line x1="73.90" y1="448.30" x2="73.90" y2="452.00" stroke="#555" stroke-width="0.9"/>
<line x1="68.70" y1="452.00" x2="79.10" y2="452.00" stroke="#555" stroke-width="0.9"/>
<line x1="68.70" y1="448.30" x2="79.10" y2="448.30" stroke="#555" stroke-width="0.9"/>
<line x1="73.90" y1="522.20" x2="73.90" y2="524.80" stroke="#111" stroke-width="1"/>
<rect x="93.90" y="458.40" width="19.90" height="63.80" fill="#4d4d4d"/>
<line x1="103.85" y1="455.70" x2="103.85" y2="461.00" stroke="#555" stroke-width="0.9"/>
<line x1="98.65" y1="461.00" x2="109.05" y2="461.00" stroke="#555" stroke-width="0.9"/>
<line x1="98.65" y1="455.70" x2="109.05" y2="455.70" stroke="#555" stroke-width="0.9"/>
<line x1="103.85" y1="522.20" x2="103.85" y2="524.80" stroke="#111" stroke-width="1"/>
<line x1="134.00" y1="485.20" x2="134.00" y2="487.00" stroke="#555" stroke-width="0.9"/>
<rect x="124.00" y="487.00" width="20.00" height="35.20" fill="#000"/>
<line x1="128.80" y1="485.20" x2="139.20" y2="485.20" stroke="#555" stroke-width="0.9"/>
<line x1="134.00" y1="522.20" x2="134.00" y2="524.80" stroke="#111" stroke-width="1"/>
<text transform="translate(45.6 531.8) rotate(-45)" font-size="9.3" font-weight="bold" fill="#111" stroke="#111" stroke-width="0.33" text-anchor="end" textLength="43.5" lengthAdjust="spacingAndGlyphs">Untreated</text>
<text transform="translate(76.0 531.8) rotate(-45)" font-size="9.3" font-weight="bold" fill="#111" stroke="#111" stroke-width="0.33" text-anchor="end" textLength="16.0" lengthAdjust="spacingAndGlyphs">GFP</text>
<text transform="translate(106.2 531.8) rotate(-45)" font-size="9.3" font-weight="bold" fill="#111" stroke="#111" stroke-width="0.33" text-anchor="end" textLength="32.0" lengthAdjust="spacingAndGlyphs">m909-Z</text>
<text transform="translate(136.6 531.8) rotate(-45)" font-size="9.3" font-weight="bold" fill="#111" stroke="#111" stroke-width="0.33" text-anchor="end" textLength="43.0" lengthAdjust="spacingAndGlyphs">m909-28Z</text>
<text x="129.5" y="482.9" font-size="7.4" font-weight="bold" fill="#000" stroke="#000" stroke-width="0.16" text-anchor="middle">*</text>
<text x="133.8" y="482.9" font-size="7.4" font-weight="bold" fill="#000" stroke="#000" stroke-width="0.16" text-anchor="middle">*</text>
<text x="138.2" y="482.9" font-size="7.4" font-weight="bold" fill="#000" stroke="#000" stroke-width="0.16" text-anchor="middle">*</text>
<line x1="183.30" y1="441.80" x2="183.30" y2="522.70" stroke="#222" stroke-width="1.1"/>
<line x1="182.80" y1="522.20" x2="303.60" y2="522.20" stroke="#111" stroke-width="1.3"/>
<line x1="180.50" y1="442.20" x2="183.30" y2="442.20" stroke="#222" stroke-width="1"/>
<line x1="180.50" y1="462.20" x2="183.30" y2="462.20" stroke="#222" stroke-width="1"/>
<line x1="180.50" y1="482.20" x2="183.30" y2="482.20" stroke="#222" stroke-width="1"/>
<line x1="180.50" y1="502.20" x2="183.30" y2="502.20" stroke="#222" stroke-width="1"/>
<line x1="180.50" y1="522.20" x2="183.30" y2="522.20" stroke="#222" stroke-width="1"/>
<text x="168.5" y="444.9" font-size="7.5" font-weight="bold" fill="#111" stroke="#111" stroke-width="0.16" textLength="11.4" lengthAdjust="spacingAndGlyphs">800</text>
<text x="168.5" y="464.9" font-size="7.5" font-weight="bold" fill="#111" stroke="#111" stroke-width="0.16" textLength="11.4" lengthAdjust="spacingAndGlyphs">600</text>
<text x="168.5" y="484.9" font-size="7.5" font-weight="bold" fill="#111" stroke="#111" stroke-width="0.16" textLength="11.4" lengthAdjust="spacingAndGlyphs">400</text>
<text x="168.5" y="504.9" font-size="7.5" font-weight="bold" fill="#111" stroke="#111" stroke-width="0.16" textLength="11.4" lengthAdjust="spacingAndGlyphs">200</text>
<text x="176.1" y="524.9" font-size="7.5" font-weight="bold" fill="#111" stroke="#111" stroke-width="0.16" textLength="3.8" lengthAdjust="spacingAndGlyphs">0</text>
<text transform="translate(165.3 497.6) rotate(-90)" font-size="9.3" font-weight="bold" fill="#111" stroke="#111" stroke-width="0.33" textLength="32.6" lengthAdjust="spacingAndGlyphs">FRβ MFI</text>
<rect x="188.50" y="458.50" width="20.00" height="63.70" fill="#fff" stroke="#777" stroke-width="1"/>
<line x1="198.50" y1="451.40" x2="198.50" y2="464.60" stroke="#555" stroke-width="0.9"/>
<line x1="193.30" y1="464.60" x2="203.70" y2="464.60" stroke="#555" stroke-width="0.9"/>
<line x1="193.30" y1="451.40" x2="203.70" y2="451.40" stroke="#555" stroke-width="0.9"/>
<line x1="198.50" y1="522.20" x2="198.50" y2="524.80" stroke="#111" stroke-width="1"/>
<rect x="218.60" y="456.30" width="20.00" height="65.90" fill="#999"/>
<line x1="228.60" y1="452.00" x2="228.60" y2="460.00" stroke="#555" stroke-width="0.9"/>
<line x1="223.40" y1="460.00" x2="233.80" y2="460.00" stroke="#555" stroke-width="0.9"/>
<line x1="223.40" y1="452.00" x2="233.80" y2="452.00" stroke="#555" stroke-width="0.9"/>
<line x1="228.60" y1="522.20" x2="228.60" y2="524.80" stroke="#111" stroke-width="1"/>
<rect x="249.00" y="471.70" width="20.00" height="50.50" fill="#4d4d4d"/>
<line x1="259.00" y1="466.80" x2="259.00" y2="477.00" stroke="#555" stroke-width="0.9"/>
<line x1="253.80" y1="477.00" x2="264.20" y2="477.00" stroke="#555" stroke-width="0.9"/>
<line x1="253.80" y1="466.80" x2="264.20" y2="466.80" stroke="#555" stroke-width="0.9"/>
<line x1="259.00" y1="522.20" x2="259.00" y2="524.80" stroke="#111" stroke-width="1"/>
<line x1="289.00" y1="513.80" x2="289.00" y2="515.40" stroke="#555" stroke-width="0.9"/>
<rect x="278.80" y="515.40" width="20.40" height="6.80" fill="#000"/>
<line x1="283.80" y1="513.80" x2="294.20" y2="513.80" stroke="#555" stroke-width="0.9"/>
<line x1="289.00" y1="522.20" x2="289.00" y2="524.80" stroke="#111" stroke-width="1"/>
<text transform="translate(200.4 531.8) rotate(-45)" font-size="9.3" font-weight="bold" fill="#111" stroke="#111" stroke-width="0.33" text-anchor="end" textLength="43.5" lengthAdjust="spacingAndGlyphs">Untreated</text>
<text transform="translate(230.6 531.8) rotate(-45)" font-size="9.3" font-weight="bold" fill="#111" stroke="#111" stroke-width="0.33" text-anchor="end" textLength="16.0" lengthAdjust="spacingAndGlyphs">GFP</text>
<text transform="translate(261.0 531.8) rotate(-45)" font-size="9.3" font-weight="bold" fill="#111" stroke="#111" stroke-width="0.33" text-anchor="end" textLength="32.0" lengthAdjust="spacingAndGlyphs">m909-Z</text>
<text transform="translate(291.4 531.8) rotate(-45)" font-size="9.3" font-weight="bold" fill="#111" stroke="#111" stroke-width="0.33" text-anchor="end" textLength="43.0" lengthAdjust="spacingAndGlyphs">m909-28Z</text>
<text x="285.9" y="512.2" font-size="7.4" font-weight="bold" fill="#000" stroke="#000" stroke-width="0.16" text-anchor="middle">*</text>
<text x="290.3" y="512.2" font-size="7.4" font-weight="bold" fill="#000" stroke="#000" stroke-width="0.16" text-anchor="middle">*</text>
<text x="306.0" y="189.4" font-size="11.8" font-weight="bold" fill="#000" stroke="#000" stroke-width="0.42">D</text>
<text x="403.0" y="192.0" font-size="8.4" font-weight="normal" fill="#6a6a6a" textLength="16.5" lengthAdjust="spacingAndGlyphs" stroke="#6a6a6a" stroke-width="0.4">GFP</text>
<line x1="423.00" y1="189.10" x2="440.00" y2="189.10" stroke="#828282" stroke-width="1.3"/>
<text x="403.0" y="203.8" font-size="9.3" font-weight="bold" fill="#111" stroke="#111" stroke-width="0.33" textLength="40.0" lengthAdjust="spacingAndGlyphs">CD19-28Z</text>
<line x1="445.00" y1="201.00" x2="463.00" y2="201.00" stroke="#222" stroke-width="1.2" stroke-dasharray="1 1"/>
<text x="403.0" y="216.2" font-size="9.3" font-weight="bold" fill="#111" stroke="#111" stroke-width="0.33" textLength="41.5" lengthAdjust="spacingAndGlyphs">m909-28Z</text>
<line x1="444.50" y1="212.80" x2="463.00" y2="212.80" stroke="#000" stroke-width="1.3"/>
<rect x="331.80" y="222.00" width="91.40" height="86.90" fill="none" stroke="#808080" stroke-width="1.3"/>
<text x="342.6" y="317.6" font-size="3.9" font-weight="bold" fill="#111" text-anchor="middle">10<tspan dy="-1.6" font-size="2.9">1</tspan></text>
<text x="360.6" y="317.6" font-size="3.9" font-weight="bold" fill="#111" text-anchor="middle">10<tspan dy="-1.6" font-size="2.9">2</tspan></text>
<text x="378.4" y="317.6" font-size="3.9" font-weight="bold" fill="#111" text-anchor="middle">10<tspan dy="-1.6" font-size="2.9">3</tspan></text>
<text x="396.7" y="317.6" font-size="3.9" font-weight="bold" fill="#111" text-anchor="middle">10<tspan dy="-1.6" font-size="2.9">4</tspan></text>
<text x="414.8" y="317.6" font-size="3.9" font-weight="bold" fill="#111" text-anchor="middle">10<tspan dy="-1.6" font-size="2.9">5</tspan></text>
<line x1="334.80" y1="309.30" x2="334.80" y2="311.10" stroke="#8a8a8a" stroke-width="0.5"/>
<line x1="337.80" y1="309.30" x2="337.80" y2="311.10" stroke="#8a8a8a" stroke-width="0.5"/>
<line x1="340.30" y1="309.30" x2="340.30" y2="311.10" stroke="#8a8a8a" stroke-width="0.5"/>
<line x1="348.80" y1="309.30" x2="348.80" y2="311.10" stroke="#8a8a8a" stroke-width="0.5"/>
<line x1="352.80" y1="309.30" x2="352.80" y2="311.10" stroke="#8a8a8a" stroke-width="0.5"/>
<line x1="355.80" y1="309.30" x2="355.80" y2="311.10" stroke="#8a8a8a" stroke-width="0.5"/>
<line x1="357.80" y1="309.30" x2="357.80" y2="311.10" stroke="#8a8a8a" stroke-width="0.5"/>
<line x1="359.60" y1="309.30" x2="359.60" y2="311.10" stroke="#8a8a8a" stroke-width="0.5"/>
<line x1="366.80" y1="309.30" x2="366.80" y2="311.10" stroke="#8a8a8a" stroke-width="0.5"/>
<line x1="370.80" y1="309.30" x2="370.80" y2="311.10" stroke="#8a8a8a" stroke-width="0.5"/>
<line x1="373.80" y1="309.30" x2="373.80" y2="311.10" stroke="#8a8a8a" stroke-width="0.5"/>
<line x1="375.80" y1="309.30" x2="375.80" y2="311.10" stroke="#8a8a8a" stroke-width="0.5"/>
<line x1="377.60" y1="309.30" x2="377.60" y2="311.10" stroke="#8a8a8a" stroke-width="0.5"/>
<line x1="384.80" y1="309.30" x2="384.80" y2="311.10" stroke="#8a8a8a" stroke-width="0.5"/>
<line x1="388.80" y1="309.30" x2="388.80" y2="311.10" stroke="#8a8a8a" stroke-width="0.5"/>
<line x1="391.80" y1="309.30" x2="391.80" y2="311.10" stroke="#8a8a8a" stroke-width="0.5"/>
<line x1="393.80" y1="309.30" x2="393.80" y2="311.10" stroke="#8a8a8a" stroke-width="0.5"/>
<line x1="395.80" y1="309.30" x2="395.80" y2="311.10" stroke="#8a8a8a" stroke-width="0.5"/>
<line x1="402.80" y1="309.30" x2="402.80" y2="311.10" stroke="#8a8a8a" stroke-width="0.5"/>
<line x1="406.80" y1="309.30" x2="406.80" y2="311.10" stroke="#8a8a8a" stroke-width="0.5"/>
<line x1="409.80" y1="309.30" x2="409.80" y2="311.10" stroke="#8a8a8a" stroke-width="0.5"/>
<line x1="411.80" y1="309.30" x2="411.80" y2="311.10" stroke="#8a8a8a" stroke-width="0.5"/>
<line x1="413.80" y1="309.30" x2="413.80" y2="311.10" stroke="#8a8a8a" stroke-width="0.5"/>
<line x1="420.80" y1="309.30" x2="420.80" y2="311.10" stroke="#8a8a8a" stroke-width="0.5"/>
<line x1="343.40" y1="309.30" x2="343.40" y2="311.10" stroke="#333" stroke-width="0.5"/>
<line x1="361.30" y1="309.30" x2="361.30" y2="311.10" stroke="#333" stroke-width="0.5"/>
<line x1="379.10" y1="309.30" x2="379.10" y2="311.10" stroke="#333" stroke-width="0.5"/>
<line x1="397.40" y1="309.30" x2="397.40" y2="311.10" stroke="#333" stroke-width="0.5"/>
<line x1="415.60" y1="309.30" x2="415.60" y2="311.10" stroke="#333" stroke-width="0.5"/>
<line x1="331.40" y1="308.90" x2="423.60" y2="308.90" stroke="#111" stroke-width="1.5"/>
<rect x="331.80" y="320.40" width="91.40" height="86.70" fill="none" stroke="#808080" stroke-width="1.3"/>
<text x="342.6" y="415.8" font-size="3.9" font-weight="bold" fill="#111" text-anchor="middle">10<tspan dy="-1.6" font-size="2.9">1</tspan></text>
<text x="360.6" y="415.8" font-size="3.9" font-weight="bold" fill="#111" text-anchor="middle">10<tspan dy="-1.6" font-size="2.9">2</tspan></text>
<text x="378.4" y="415.8" font-size="3.9" font-weight="bold" fill="#111" text-anchor="middle">10<tspan dy="-1.6" font-size="2.9">3</tspan></text>
<text x="396.7" y="415.8" font-size="3.9" font-weight="bold" fill="#111" text-anchor="middle">10<tspan dy="-1.6" font-size="2.9">4</tspan></text>
<text x="414.8" y="415.8" font-size="3.9" font-weight="bold" fill="#111" text-anchor="middle">10<tspan dy="-1.6" font-size="2.9">5</tspan></text>
<line x1="334.80" y1="407.50" x2="334.80" y2="409.30" stroke="#8a8a8a" stroke-width="0.5"/>
<line x1="337.80" y1="407.50" x2="337.80" y2="409.30" stroke="#8a8a8a" stroke-width="0.5"/>
<line x1="340.30" y1="407.50" x2="340.30" y2="409.30" stroke="#8a8a8a" stroke-width="0.5"/>
<line x1="348.80" y1="407.50" x2="348.80" y2="409.30" stroke="#8a8a8a" stroke-width="0.5"/>
<line x1="352.80" y1="407.50" x2="352.80" y2="409.30" stroke="#8a8a8a" stroke-width="0.5"/>
<line x1="355.80" y1="407.50" x2="355.80" y2="409.30" stroke="#8a8a8a" stroke-width="0.5"/>
<line x1="357.80" y1="407.50" x2="357.80" y2="409.30" stroke="#8a8a8a" stroke-width="0.5"/>
<line x1="359.60" y1="407.50" x2="359.60" y2="409.30" stroke="#8a8a8a" stroke-width="0.5"/>
<line x1="366.80" y1="407.50" x2="366.80" y2="409.30" stroke="#8a8a8a" stroke-width="0.5"/>
<line x1="370.80" y1="407.50" x2="370.80" y2="409.30" stroke="#8a8a8a" stroke-width="0.5"/>
<line x1="373.80" y1="407.50" x2="373.80" y2="409.30" stroke="#8a8a8a" stroke-width="0.5"/>
<line x1="375.80" y1="407.50" x2="375.80" y2="409.30" stroke="#8a8a8a" stroke-width="0.5"/>
<line x1="377.60" y1="407.50" x2="377.60" y2="409.30" stroke="#8a8a8a" stroke-width="0.5"/>
<line x1="384.80" y1="407.50" x2="384.80" y2="409.30" stroke="#8a8a8a" stroke-width="0.5"/>
<line x1="388.80" y1="407.50" x2="388.80" y2="409.30" stroke="#8a8a8a" stroke-width="0.5"/>
<line x1="391.80" y1="407.50" x2="391.80" y2="409.30" stroke="#8a8a8a" stroke-width="0.5"/>
<line x1="393.80" y1="407.50" x2="393.80" y2="409.30" stroke="#8a8a8a" stroke-width="0.5"/>
<line x1="395.80" y1="407.50" x2="395.80" y2="409.30" stroke="#8a8a8a" stroke-width="0.5"/>
<line x1="402.80" y1="407.50" x2="402.80" y2="409.30" stroke="#8a8a8a" stroke-width="0.5"/>
<line x1="406.80" y1="407.50" x2="406.80" y2="409.30" stroke="#8a8a8a" stroke-width="0.5"/>
<line x1="409.80" y1="407.50" x2="409.80" y2="409.30" stroke="#8a8a8a" stroke-width="0.5"/>
<line x1="411.80" y1="407.50" x2="411.80" y2="409.30" stroke="#8a8a8a" stroke-width="0.5"/>
<line x1="413.80" y1="407.50" x2="413.80" y2="409.30" stroke="#8a8a8a" stroke-width="0.5"/>
<line x1="420.80" y1="407.50" x2="420.80" y2="409.30" stroke="#8a8a8a" stroke-width="0.5"/>
<line x1="343.40" y1="407.50" x2="343.40" y2="409.30" stroke="#333" stroke-width="0.5"/>
<line x1="361.30" y1="407.50" x2="361.30" y2="409.30" stroke="#333" stroke-width="0.5"/>
<line x1="379.10" y1="407.50" x2="379.10" y2="409.30" stroke="#333" stroke-width="0.5"/>
<line x1="397.40" y1="407.50" x2="397.40" y2="409.30" stroke="#333" stroke-width="0.5"/>
<line x1="415.60" y1="407.50" x2="415.60" y2="409.30" stroke="#333" stroke-width="0.5"/>
<line x1="331.40" y1="407.10" x2="423.60" y2="407.10" stroke="#111" stroke-width="1.5"/>
<rect x="331.80" y="419.00" width="91.40" height="86.80" fill="none" stroke="#808080" stroke-width="1.3"/>
<text x="342.6" y="514.5" font-size="3.9" font-weight="bold" fill="#111" text-anchor="middle">10<tspan dy="-1.6" font-size="2.9">1</tspan></text>
<text x="360.6" y="514.5" font-size="3.9" font-weight="bold" fill="#111" text-anchor="middle">10<tspan dy="-1.6" font-size="2.9">2</tspan></text>
<text x="378.4" y="514.5" font-size="3.9" font-weight="bold" fill="#111" text-anchor="middle">10<tspan dy="-1.6" font-size="2.9">3</tspan></text>
<text x="396.7" y="514.5" font-size="3.9" font-weight="bold" fill="#111" text-anchor="middle">10<tspan dy="-1.6" font-size="2.9">4</tspan></text>
<text x="414.8" y="514.5" font-size="3.9" font-weight="bold" fill="#111" text-anchor="middle">10<tspan dy="-1.6" font-size="2.9">5</tspan></text>
<line x1="334.80" y1="506.20" x2="334.80" y2="508.00" stroke="#8a8a8a" stroke-width="0.5"/>
<line x1="337.80" y1="506.20" x2="337.80" y2="508.00" stroke="#8a8a8a" stroke-width="0.5"/>
<line x1="340.30" y1="506.20" x2="340.30" y2="508.00" stroke="#8a8a8a" stroke-width="0.5"/>
<line x1="348.80" y1="506.20" x2="348.80" y2="508.00" stroke="#8a8a8a" stroke-width="0.5"/>
<line x1="352.80" y1="506.20" x2="352.80" y2="508.00" stroke="#8a8a8a" stroke-width="0.5"/>
<line x1="355.80" y1="506.20" x2="355.80" y2="508.00" stroke="#8a8a8a" stroke-width="0.5"/>
<line x1="357.80" y1="506.20" x2="357.80" y2="508.00" stroke="#8a8a8a" stroke-width="0.5"/>
<line x1="359.60" y1="506.20" x2="359.60" y2="508.00" stroke="#8a8a8a" stroke-width="0.5"/>
<line x1="366.80" y1="506.20" x2="366.80" y2="508.00" stroke="#8a8a8a" stroke-width="0.5"/>
<line x1="370.80" y1="506.20" x2="370.80" y2="508.00" stroke="#8a8a8a" stroke-width="0.5"/>
<line x1="373.80" y1="506.20" x2="373.80" y2="508.00" stroke="#8a8a8a" stroke-width="0.5"/>
<line x1="375.80" y1="506.20" x2="375.80" y2="508.00" stroke="#8a8a8a" stroke-width="0.5"/>
<line x1="377.60" y1="506.20" x2="377.60" y2="508.00" stroke="#8a8a8a" stroke-width="0.5"/>
<line x1="384.80" y1="506.20" x2="384.80" y2="508.00" stroke="#8a8a8a" stroke-width="0.5"/>
<line x1="388.80" y1="506.20" x2="388.80" y2="508.00" stroke="#8a8a8a" stroke-width="0.5"/>
<line x1="391.80" y1="506.20" x2="391.80" y2="508.00" stroke="#8a8a8a" stroke-width="0.5"/>
<line x1="393.80" y1="506.20" x2="393.80" y2="508.00" stroke="#8a8a8a" stroke-width="0.5"/>
<line x1="395.80" y1="506.20" x2="395.80" y2="508.00" stroke="#8a8a8a" stroke-width="0.5"/>
<line x1="402.80" y1="506.20" x2="402.80" y2="508.00" stroke="#8a8a8a" stroke-width="0.5"/>
<line x1="406.80" y1="506.20" x2="406.80" y2="508.00" stroke="#8a8a8a" stroke-width="0.5"/>
<line x1="409.80" y1="506.20" x2="409.80" y2="508.00" stroke="#8a8a8a" stroke-width="0.5"/>
<line x1="411.80" y1="506.20" x2="411.80" y2="508.00" stroke="#8a8a8a" stroke-width="0.5"/>
<line x1="413.80" y1="506.20" x2="413.80" y2="508.00" stroke="#8a8a8a" stroke-width="0.5"/>
<line x1="420.80" y1="506.20" x2="420.80" y2="508.00" stroke="#8a8a8a" stroke-width="0.5"/>
<line x1="343.40" y1="506.20" x2="343.40" y2="508.00" stroke="#333" stroke-width="0.5"/>
<line x1="361.30" y1="506.20" x2="361.30" y2="508.00" stroke="#333" stroke-width="0.5"/>
<line x1="379.10" y1="506.20" x2="379.10" y2="508.00" stroke="#333" stroke-width="0.5"/>
<line x1="397.40" y1="506.20" x2="397.40" y2="508.00" stroke="#333" stroke-width="0.5"/>
<line x1="415.60" y1="506.20" x2="415.60" y2="508.00" stroke="#333" stroke-width="0.5"/>
<line x1="331.40" y1="505.80" x2="423.60" y2="505.80" stroke="#111" stroke-width="1.5"/>
<rect x="427.60" y="222.00" width="91.00" height="86.90" fill="none" stroke="#808080" stroke-width="1.3"/>
<text x="438.4" y="317.6" font-size="3.9" font-weight="bold" fill="#111" text-anchor="middle">10<tspan dy="-1.6" font-size="2.9">1</tspan></text>
<text x="456.4" y="317.6" font-size="3.9" font-weight="bold" fill="#111" text-anchor="middle">10<tspan dy="-1.6" font-size="2.9">2</tspan></text>
<text x="474.2" y="317.6" font-size="3.9" font-weight="bold" fill="#111" text-anchor="middle">10<tspan dy="-1.6" font-size="2.9">3</tspan></text>
<text x="492.5" y="317.6" font-size="3.9" font-weight="bold" fill="#111" text-anchor="middle">10<tspan dy="-1.6" font-size="2.9">4</tspan></text>
<text x="510.6" y="317.6" font-size="3.9" font-weight="bold" fill="#111" text-anchor="middle">10<tspan dy="-1.6" font-size="2.9">5</tspan></text>
<line x1="430.60" y1="309.30" x2="430.60" y2="311.10" stroke="#8a8a8a" stroke-width="0.5"/>
<line x1="433.60" y1="309.30" x2="433.60" y2="311.10" stroke="#8a8a8a" stroke-width="0.5"/>
<line x1="436.10" y1="309.30" x2="436.10" y2="311.10" stroke="#8a8a8a" stroke-width="0.5"/>
<line x1="444.60" y1="309.30" x2="444.60" y2="311.10" stroke="#8a8a8a" stroke-width="0.5"/>
<line x1="448.60" y1="309.30" x2="448.60" y2="311.10" stroke="#8a8a8a" stroke-width="0.5"/>
<line x1="451.60" y1="309.30" x2="451.60" y2="311.10" stroke="#8a8a8a" stroke-width="0.5"/>
<line x1="453.60" y1="309.30" x2="453.60" y2="311.10" stroke="#8a8a8a" stroke-width="0.5"/>
<line x1="455.40" y1="309.30" x2="455.40" y2="311.10" stroke="#8a8a8a" stroke-width="0.5"/>
<line x1="462.60" y1="309.30" x2="462.60" y2="311.10" stroke="#8a8a8a" stroke-width="0.5"/>
<line x1="466.60" y1="309.30" x2="466.60" y2="311.10" stroke="#8a8a8a" stroke-width="0.5"/>
<line x1="469.60" y1="309.30" x2="469.60" y2="311.10" stroke="#8a8a8a" stroke-width="0.5"/>
<line x1="471.60" y1="309.30" x2="471.60" y2="311.10" stroke="#8a8a8a" stroke-width="0.5"/>
<line x1="473.40" y1="309.30" x2="473.40" y2="311.10" stroke="#8a8a8a" stroke-width="0.5"/>
<line x1="480.60" y1="309.30" x2="480.60" y2="311.10" stroke="#8a8a8a" stroke-width="0.5"/>
<line x1="484.60" y1="309.30" x2="484.60" y2="311.10" stroke="#8a8a8a" stroke-width="0.5"/>
<line x1="487.60" y1="309.30" x2="487.60" y2="311.10" stroke="#8a8a8a" stroke-width="0.5"/>
<line x1="489.60" y1="309.30" x2="489.60" y2="311.10" stroke="#8a8a8a" stroke-width="0.5"/>
<line x1="491.60" y1="309.30" x2="491.60" y2="311.10" stroke="#8a8a8a" stroke-width="0.5"/>
<line x1="498.60" y1="309.30" x2="498.60" y2="311.10" stroke="#8a8a8a" stroke-width="0.5"/>
<line x1="502.60" y1="309.30" x2="502.60" y2="311.10" stroke="#8a8a8a" stroke-width="0.5"/>
<line x1="505.60" y1="309.30" x2="505.60" y2="311.10" stroke="#8a8a8a" stroke-width="0.5"/>
<line x1="507.60" y1="309.30" x2="507.60" y2="311.10" stroke="#8a8a8a" stroke-width="0.5"/>
<line x1="509.60" y1="309.30" x2="509.60" y2="311.10" stroke="#8a8a8a" stroke-width="0.5"/>
<line x1="516.60" y1="309.30" x2="516.60" y2="311.10" stroke="#8a8a8a" stroke-width="0.5"/>
<line x1="439.20" y1="309.30" x2="439.20" y2="311.10" stroke="#333" stroke-width="0.5"/>
<line x1="457.10" y1="309.30" x2="457.10" y2="311.10" stroke="#333" stroke-width="0.5"/>
<line x1="474.90" y1="309.30" x2="474.90" y2="311.10" stroke="#333" stroke-width="0.5"/>
<line x1="493.20" y1="309.30" x2="493.20" y2="311.10" stroke="#333" stroke-width="0.5"/>
<line x1="511.40" y1="309.30" x2="511.40" y2="311.10" stroke="#333" stroke-width="0.5"/>
<line x1="427.20" y1="308.90" x2="519.00" y2="308.90" stroke="#111" stroke-width="1.5"/>
<rect x="427.60" y="320.40" width="91.00" height="86.70" fill="none" stroke="#808080" stroke-width="1.3"/>
<text x="438.4" y="415.8" font-size="3.9" font-weight="bold" fill="#111" text-anchor="middle">10<tspan dy="-1.6" font-size="2.9">1</tspan></text>
<text x="456.4" y="415.8" font-size="3.9" font-weight="bold" fill="#111" text-anchor="middle">10<tspan dy="-1.6" font-size="2.9">2</tspan></text>
<text x="474.2" y="415.8" font-size="3.9" font-weight="bold" fill="#111" text-anchor="middle">10<tspan dy="-1.6" font-size="2.9">3</tspan></text>
<text x="492.5" y="415.8" font-size="3.9" font-weight="bold" fill="#111" text-anchor="middle">10<tspan dy="-1.6" font-size="2.9">4</tspan></text>
<text x="510.6" y="415.8" font-size="3.9" font-weight="bold" fill="#111" text-anchor="middle">10<tspan dy="-1.6" font-size="2.9">5</tspan></text>
<line x1="430.60" y1="407.50" x2="430.60" y2="409.30" stroke="#8a8a8a" stroke-width="0.5"/>
<line x1="433.60" y1="407.50" x2="433.60" y2="409.30" stroke="#8a8a8a" stroke-width="0.5"/>
<line x1="436.10" y1="407.50" x2="436.10" y2="409.30" stroke="#8a8a8a" stroke-width="0.5"/>
<line x1="444.60" y1="407.50" x2="444.60" y2="409.30" stroke="#8a8a8a" stroke-width="0.5"/>
<line x1="448.60" y1="407.50" x2="448.60" y2="409.30" stroke="#8a8a8a" stroke-width="0.5"/>
<line x1="451.60" y1="407.50" x2="451.60" y2="409.30" stroke="#8a8a8a" stroke-width="0.5"/>
<line x1="453.60" y1="407.50" x2="453.60" y2="409.30" stroke="#8a8a8a" stroke-width="0.5"/>
<line x1="455.40" y1="407.50" x2="455.40" y2="409.30" stroke="#8a8a8a" stroke-width="0.5"/>
<line x1="462.60" y1="407.50" x2="462.60" y2="409.30" stroke="#8a8a8a" stroke-width="0.5"/>
<line x1="466.60" y1="407.50" x2="466.60" y2="409.30" stroke="#8a8a8a" stroke-width="0.5"/>
<line x1="469.60" y1="407.50" x2="469.60" y2="409.30" stroke="#8a8a8a" stroke-width="0.5"/>
<line x1="471.60" y1="407.50" x2="471.60" y2="409.30" stroke="#8a8a8a" stroke-width="0.5"/>
<line x1="473.40" y1="407.50" x2="473.40" y2="409.30" stroke="#8a8a8a" stroke-width="0.5"/>
<line x1="480.60" y1="407.50" x2="480.60" y2="409.30" stroke="#8a8a8a" stroke-width="0.5"/>
<line x1="484.60" y1="407.50" x2="484.60" y2="409.30" stroke="#8a8a8a" stroke-width="0.5"/>
<line x1="487.60" y1="407.50" x2="487.60" y2="409.30" stroke="#8a8a8a" stroke-width="0.5"/>
<line x1="489.60" y1="407.50" x2="489.60" y2="409.30" stroke="#8a8a8a" stroke-width="0.5"/>
<line x1="491.60" y1="407.50" x2="491.60" y2="409.30" stroke="#8a8a8a" stroke-width="0.5"/>
<line x1="498.60" y1="407.50" x2="498.60" y2="409.30" stroke="#8a8a8a" stroke-width="0.5"/>
<line x1="502.60" y1="407.50" x2="502.60" y2="409.30" stroke="#8a8a8a" stroke-width="0.5"/>
<line x1="505.60" y1="407.50" x2="505.60" y2="409.30" stroke="#8a8a8a" stroke-width="0.5"/>
<line x1="507.60" y1="407.50" x2="507.60" y2="409.30" stroke="#8a8a8a" stroke-width="0.5"/>
<line x1="509.60" y1="407.50" x2="509.60" y2="409.30" stroke="#8a8a8a" stroke-width="0.5"/>
<line x1="516.60" y1="407.50" x2="516.60" y2="409.30" stroke="#8a8a8a" stroke-width="0.5"/>
<line x1="439.20" y1="407.50" x2="439.20" y2="409.30" stroke="#333" stroke-width="0.5"/>
<line x1="457.10" y1="407.50" x2="457.10" y2="409.30" stroke="#333" stroke-width="0.5"/>
<line x1="474.90" y1="407.50" x2="474.90" y2="409.30" stroke="#333" stroke-width="0.5"/>
<line x1="493.20" y1="407.50" x2="493.20" y2="409.30" stroke="#333" stroke-width="0.5"/>
<line x1="511.40" y1="407.50" x2="511.40" y2="409.30" stroke="#333" stroke-width="0.5"/>
<line x1="427.20" y1="407.10" x2="519.00" y2="407.10" stroke="#111" stroke-width="1.5"/>
<rect x="427.60" y="419.00" width="91.00" height="86.80" fill="none" stroke="#808080" stroke-width="1.3"/>
<text x="438.4" y="514.5" font-size="3.9" font-weight="bold" fill="#111" text-anchor="middle">10<tspan dy="-1.6" font-size="2.9">1</tspan></text>
<text x="456.4" y="514.5" font-size="3.9" font-weight="bold" fill="#111" text-anchor="middle">10<tspan dy="-1.6" font-size="2.9">2</tspan></text>
<text x="474.2" y="514.5" font-size="3.9" font-weight="bold" fill="#111" text-anchor="middle">10<tspan dy="-1.6" font-size="2.9">3</tspan></text>
<text x="492.5" y="514.5" font-size="3.9" font-weight="bold" fill="#111" text-anchor="middle">10<tspan dy="-1.6" font-size="2.9">4</tspan></text>
<text x="510.6" y="514.5" font-size="3.9" font-weight="bold" fill="#111" text-anchor="middle">10<tspan dy="-1.6" font-size="2.9">5</tspan></text>
<line x1="430.60" y1="506.20" x2="430.60" y2="508.00" stroke="#8a8a8a" stroke-width="0.5"/>
<line x1="433.60" y1="506.20" x2="433.60" y2="508.00" stroke="#8a8a8a" stroke-width="0.5"/>
<line x1="436.10" y1="506.20" x2="436.10" y2="508.00" stroke="#8a8a8a" stroke-width="0.5"/>
<line x1="444.60" y1="506.20" x2="444.60" y2="508.00" stroke="#8a8a8a" stroke-width="0.5"/>
<line x1="448.60" y1="506.20" x2="448.60" y2="508.00" stroke="#8a8a8a" stroke-width="0.5"/>
<line x1="451.60" y1="506.20" x2="451.60" y2="508.00" stroke="#8a8a8a" stroke-width="0.5"/>
<line x1="453.60" y1="506.20" x2="453.60" y2="508.00" stroke="#8a8a8a" stroke-width="0.5"/>
<line x1="455.40" y1="506.20" x2="455.40" y2="508.00" stroke="#8a8a8a" stroke-width="0.5"/>
<line x1="462.60" y1="506.20" x2="462.60" y2="508.00" stroke="#8a8a8a" stroke-width="0.5"/>
<line x1="466.60" y1="506.20" x2="466.60" y2="508.00" stroke="#8a8a8a" stroke-width="0.5"/>
<line x1="469.60" y1="506.20" x2="469.60" y2="508.00" stroke="#8a8a8a" stroke-width="0.5"/>
<line x1="471.60" y1="506.20" x2="471.60" y2="508.00" stroke="#8a8a8a" stroke-width="0.5"/>
<line x1="473.40" y1="506.20" x2="473.40" y2="508.00" stroke="#8a8a8a" stroke-width="0.5"/>
<line x1="480.60" y1="506.20" x2="480.60" y2="508.00" stroke="#8a8a8a" stroke-width="0.5"/>
<line x1="484.60" y1="506.20" x2="484.60" y2="508.00" stroke="#8a8a8a" stroke-width="0.5"/>
<line x1="487.60" y1="506.20" x2="487.60" y2="508.00" stroke="#8a8a8a" stroke-width="0.5"/>
<line x1="489.60" y1="506.20" x2="489.60" y2="508.00" stroke="#8a8a8a" stroke-width="0.5"/>
<line x1="491.60" y1="506.20" x2="491.60" y2="508.00" stroke="#8a8a8a" stroke-width="0.5"/>
<line x1="498.60" y1="506.20" x2="498.60" y2="508.00" stroke="#8a8a8a" stroke-width="0.5"/>
<line x1="502.60" y1="506.20" x2="502.60" y2="508.00" stroke="#8a8a8a" stroke-width="0.5"/>
<line x1="505.60" y1="506.20" x2="505.60" y2="508.00" stroke="#8a8a8a" stroke-width="0.5"/>
<line x1="507.60" y1="506.20" x2="507.60" y2="508.00" stroke="#8a8a8a" stroke-width="0.5"/>
<line x1="509.60" y1="506.20" x2="509.60" y2="508.00" stroke="#8a8a8a" stroke-width="0.5"/>
<line x1="516.60" y1="506.20" x2="516.60" y2="508.00" stroke="#8a8a8a" stroke-width="0.5"/>
<line x1="439.20" y1="506.20" x2="439.20" y2="508.00" stroke="#333" stroke-width="0.5"/>
<line x1="457.10" y1="506.20" x2="457.10" y2="508.00" stroke="#333" stroke-width="0.5"/>
<line x1="474.90" y1="506.20" x2="474.90" y2="508.00" stroke="#333" stroke-width="0.5"/>
<line x1="493.20" y1="506.20" x2="493.20" y2="508.00" stroke="#333" stroke-width="0.5"/>
<line x1="511.40" y1="506.20" x2="511.40" y2="508.00" stroke="#333" stroke-width="0.5"/>
<line x1="427.20" y1="505.80" x2="519.00" y2="505.80" stroke="#111" stroke-width="1.5"/>
<text x="335.1" y="231.0" font-size="9.3" font-weight="bold" fill="#111" stroke="#111" stroke-width="0.33" textLength="13.2" lengthAdjust="spacingAndGlyphs">Pre</text>
<text x="430.9" y="231.0" font-size="9.3" font-weight="bold" fill="#111" stroke="#111" stroke-width="0.33" textLength="21.2" lengthAdjust="spacingAndGlyphs">THP1</text>
<text x="335.1" y="330.0" font-size="9.3" font-weight="bold" fill="#111" stroke="#111" stroke-width="0.33" textLength="15.8" lengthAdjust="spacingAndGlyphs">C30</text>
<text x="430.9" y="330.0" font-size="9.3" font-weight="bold" fill="#111" stroke="#111" stroke-width="0.33" textLength="29.6" lengthAdjust="spacingAndGlyphs">MV411</text>
<text x="335.1" y="428.6" font-size="9.3" font-weight="bold" fill="#111" stroke="#111" stroke-width="0.33" textLength="34.2" lengthAdjust="spacingAndGlyphs">C30-FRβ</text>
<text x="430.9" y="428.6" font-size="9.3" font-weight="bold" fill="#111" stroke="#111" stroke-width="0.33" textLength="20.5" lengthAdjust="spacingAndGlyphs">HL60</text>
<polyline points="332.4,308.6 341.4,308.6 354.7,308.6 369.4,308.6 382.7,308.6 392.0,308.5 396.2,308.5 397.3,308.4 396.6,308.4 395.4,308.2 395.0,307.9 395.5,307.5 395.9,307.1 396.3,306.5 396.6,305.7 397.0,304.4 397.3,302.8 397.7,301.1 398.0,298.9 398.3,296.3 398.6,292.9 398.9,288.6 399.2,283.5 399.5,278.0 399.7,272.3 400.0,266.9 400.3,261.5 400.5,256.0 400.7,250.5 401.0,245.4 401.2,240.9 401.5,236.6 401.7,232.5 402.0,228.9 402.2,226.4 402.5,225.5 402.8,226.4 403.0,228.9 403.3,232.5 403.5,236.6 403.8,240.9 404.0,245.4 404.3,250.5 404.5,256.0 404.7,261.5 405.0,266.9 405.3,272.3 405.5,278.0 405.8,283.5 406.1,288.6 406.4,292.9 406.7,296.3 407.0,298.9 407.3,301.1 407.7,302.8 408.0,304.4 408.4,305.7 408.7,306.5 409.1,307.1 409.5,307.5 410.0,307.9 410.4,308.2 410.8,308.4 411.3,308.4 412.0,308.5 413.0,308.5 414.7,308.6 416.9,308.6 419.2,308.6 421.3,308.6 422.7,308.6" fill="none" stroke="#000" stroke-width="2.0" stroke-linejoin="round" stroke-linecap="round"/>
<polyline points="428.2,308.6 434.8,308.6 444.5,308.6 455.3,308.7 465.1,308.6 472.0,308.5 475.3,308.4 476.3,308.2 476.1,308.0 475.5,307.6 475.5,306.9 476.1,306.0 476.8,304.9 477.4,303.6 478.0,302.0 478.5,299.9 479.0,297.4 479.4,294.5 479.8,291.2 480.1,287.7 480.5,283.9 480.8,279.8 481.1,275.3 481.4,270.5 481.7,265.7 482.0,260.9 482.3,256.0 482.6,250.7 483.0,245.6 483.3,240.9 483.6,236.9 483.9,233.5 484.2,230.4 484.6,227.9 484.9,226.4 485.2,225.9 485.5,226.8 485.8,228.8 486.1,231.7 486.5,235.1 486.8,238.9 487.1,243.2 487.5,248.1 487.8,253.5 488.2,258.8 488.6,263.9 489.0,268.8 489.4,273.7 489.9,278.4 490.3,282.9 490.8,286.9 491.3,290.4 491.7,293.5 492.2,296.3 492.7,298.8 493.2,300.9 493.7,302.7 494.2,304.1 494.8,305.2 495.4,306.1 496.0,306.9 496.5,307.5 496.8,307.9 497.3,308.2 498.3,308.3 500.0,308.5 503.0,308.6 507.1,308.7 511.5,308.6 515.4,308.6 518.1,308.6" fill="none" stroke="#8c8c8c" stroke-width="1.1" stroke-linejoin="round" stroke-linecap="round"/>
<polyline points="428.2,308.6 435.2,308.6 445.6,308.6 457.0,308.7 467.5,308.6 474.8,308.5 478.3,308.4 479.3,308.2 479.0,308.0 478.3,307.6 478.3,306.9 478.9,306.0 479.6,304.9 480.2,303.6 480.8,302.0 481.3,299.9 481.8,297.4 482.2,294.5 482.6,291.2 482.9,287.7 483.3,283.9 483.6,279.8 483.9,275.3 484.2,270.5 484.5,265.7 484.8,260.9 485.1,256.0 485.4,250.7 485.8,245.6 486.1,240.9 486.4,236.9 486.7,233.5 487.0,230.4 487.4,227.9 487.7,226.4 488.0,225.9 488.3,226.8 488.6,228.8 488.9,231.7 489.3,235.1 489.6,238.9 489.9,243.2 490.3,248.1 490.6,253.5 491.0,258.8 491.4,263.9 491.8,268.8 492.2,273.7 492.7,278.4 493.1,282.9 493.6,286.9 494.1,290.4 494.5,293.5 495.0,296.3 495.5,298.8 496.0,300.9 496.5,302.7 497.0,304.1 497.6,305.2 498.2,306.1 498.8,306.9 499.3,307.5 499.8,307.9 500.3,308.2 501.3,308.3 502.8,308.5 505.4,308.6 508.8,308.7 512.5,308.6 515.8,308.6 518.1,308.6" fill="none" stroke="#8c8c8c" stroke-width="1.1" stroke-linejoin="round" stroke-linecap="round"/>
<line x1="438.30" y1="288.00" x2="471.30" y2="288.00" stroke="#a4a4a4" stroke-width="0.9"/>
<line x1="438.30" y1="286.40" x2="438.30" y2="289.60" stroke="#a4a4a4" stroke-width="0.9"/>
<line x1="471.30" y1="286.40" x2="471.30" y2="289.60" stroke="#a4a4a4" stroke-width="0.9"/>
<text x="448.0" y="285.0" font-size="8.4" font-weight="bold" fill="#111" stroke="#111" stroke-width="0.30" textLength="21.0" lengthAdjust="spacingAndGlyphs">13.0%</text>
<polyline points="428.2,308.6 436.9,308.6 448.9,308.5 458.0,308.4 461.3,308.2 461.7,308.0 462.0,307.7 463.1,307.2 464.1,306.6 465.0,305.9 465.9,305.2 466.8,304.3 467.6,303.4 468.3,302.3 468.9,301.2 469.5,299.9 470.1,298.5 470.7,296.9 471.3,295.4 471.8,293.9 472.2,292.4 472.6,290.9 473.1,289.3 473.5,287.7 474.0,286.3 474.5,285.1 474.9,284.0 475.4,282.9 475.9,281.7 476.4,280.4 476.9,278.9 477.3,277.2 477.8,275.2 478.2,272.9 478.7,270.2 479.1,267.2 479.6,263.9 480.1,260.4 480.5,256.6 481.0,252.9 481.5,249.2 482.0,245.5 482.4,241.9 482.8,238.3 483.1,234.9 483.4,231.9 483.7,229.2 484.0,227.0 484.3,226.1 484.6,227.0 484.9,229.2 485.2,231.9 485.5,234.9 485.7,238.3 486.0,241.9 486.3,245.5 486.7,249.2 487.0,252.9 487.3,256.5 487.6,260.2 488.0,263.9 488.4,267.9 488.8,272.0 489.3,275.9 489.8,279.6 490.2,283.0 490.7,286.3 491.1,289.4 491.6,292.3 492.0,294.9 492.5,297.2 493.0,299.3 493.5,301.1 494.0,302.7 494.5,304.1 495.0,305.3 495.5,306.2 495.9,306.9 496.5,307.4 496.6,307.8 496.9,308.2 499.0,308.4 504.8,308.5 512.5,308.6 518.1,308.6" fill="none" stroke="#000" stroke-width="2.0" stroke-linejoin="round" stroke-linecap="round"/>
<polyline points="332.4,406.8 339.9,406.8 350.9,406.8 363.1,406.9 374.2,406.8 382.0,406.7 385.7,406.5 387.0,406.4 386.7,406.1 386.0,405.7 386.0,405.1 386.6,404.3 387.2,403.4 387.7,402.3 388.2,400.9 388.6,399.1 389.0,396.9 389.3,394.4 389.5,391.5 389.8,388.4 390.0,385.1 390.3,381.5 390.5,377.6 390.7,373.5 391.0,369.3 391.2,365.1 391.4,360.7 391.6,356.1 391.9,351.5 392.1,347.1 392.3,343.1 392.5,339.4 392.7,336.0 393.0,332.8 393.2,330.2 393.4,328.1 393.6,326.7 393.8,325.7 394.0,325.3 394.2,325.5 394.4,326.1 394.6,327.3 394.8,329.0 395.0,331.3 395.2,334.0 395.4,337.1 395.6,340.8 395.8,345.1 396.0,349.8 396.2,354.5 396.4,359.1 396.6,363.6 396.8,368.3 397.0,372.9 397.2,377.2 397.4,381.1 397.6,384.5 397.8,387.6 398.1,390.3 398.3,392.8 398.6,395.1 398.9,397.2 399.2,399.0 399.5,400.5 399.9,401.9 400.3,403.1 400.5,404.1 400.5,404.9 400.6,405.4 401.4,405.9 403.0,406.3 406.2,406.6 410.6,406.7 415.4,406.8 419.7,406.8 422.7,406.8" fill="none" stroke="#8c8c8c" stroke-width="0.9" stroke-linejoin="round" stroke-linecap="round"/>
<line x1="348.50" y1="384.20" x2="386.80" y2="384.20" stroke="#a4a4a4" stroke-width="0.9"/>
<line x1="348.50" y1="382.60" x2="348.50" y2="385.80" stroke="#a4a4a4" stroke-width="0.9"/>
<line x1="386.80" y1="382.60" x2="386.80" y2="385.80" stroke="#a4a4a4" stroke-width="0.9"/>
<text x="357.7" y="381.0" font-size="8.4" font-weight="bold" fill="#111" stroke="#111" stroke-width="0.30" textLength="21.5" lengthAdjust="spacingAndGlyphs">3.72%</text>
<polyline points="332.4,406.8 345.5,406.8 363.5,406.8 377.0,406.7 381.2,406.6 380.9,406.4 380.5,406.1 381.5,405.7 382.5,405.2 383.5,404.5 384.5,403.6 385.5,402.4 386.4,401.1 387.0,399.7 387.5,398.1 388.0,396.1 388.4,393.5 388.8,390.5 389.2,387.1 389.6,383.2 389.9,379.0 390.2,375.1 390.5,372.2 390.7,369.6 391.0,366.1 391.3,361.0 391.7,354.9 392.0,349.1 392.3,343.7 392.5,338.5 392.8,334.1 393.0,330.8 393.3,328.4 393.5,326.6 393.7,325.3 394.0,324.7 394.2,324.5 394.4,324.7 394.7,325.3 394.9,326.6 395.1,328.4 395.4,330.8 395.6,334.1 395.8,338.4 396.1,343.6 396.3,349.1 396.5,355.2 396.8,361.6 397.0,367.1 397.3,371.1 397.5,374.2 397.8,377.1 398.1,380.0 398.3,382.8 398.6,385.1 398.9,386.9 399.3,388.3 399.6,389.6 399.9,390.6 400.3,391.5 400.6,392.6 400.9,394.2 401.3,395.9 401.6,397.6 401.9,399.0 402.3,400.4 402.6,401.6 403.0,402.8 403.4,403.8 403.8,404.7 404.3,405.4 404.9,405.9 405.5,406.3 405.8,406.5 406.2,406.6 408.0,406.7 412.5,406.8 418.4,406.8 422.7,406.8" fill="none" stroke="#000" stroke-width="2.0" stroke-linejoin="round" stroke-linecap="round"/>
<polyline points="428.2,406.8 434.0,406.8 442.5,406.8 451.9,406.8 460.6,406.8 466.8,406.7 470.0,406.6 471.3,406.4 471.5,406.3 471.4,406.0 471.8,405.7 472.6,405.3 473.4,404.9 474.1,404.4 474.7,403.8 475.3,403.1 475.8,402.3 476.3,401.4 476.8,400.4 477.2,399.3 477.6,398.1 478.0,396.8 478.3,395.4 478.6,394.0 478.9,392.5 479.2,391.1 479.5,389.8 479.7,388.7 480.0,387.5 480.2,386.0 480.5,384.1 480.8,381.7 481.0,378.9 481.3,375.8 481.5,372.5 481.8,369.1 482.0,365.4 482.3,361.3 482.5,357.1 482.8,352.9 483.0,349.1 483.2,345.5 483.5,342.0 483.7,338.7 484.0,335.7 484.2,333.1 484.4,330.9 484.7,329.0 484.9,327.5 485.1,326.5 485.4,326.1 485.7,326.5 485.9,327.5 486.2,329.0 486.5,330.9 486.8,333.1 487.1,335.7 487.4,338.8 487.7,342.1 488.0,345.6 488.3,349.1 488.6,352.6 488.9,356.2 489.2,359.9 489.5,363.5 489.8,367.1 490.1,370.7 490.4,374.3 490.7,377.8 491.0,381.1 491.3,384.1 491.6,386.8 491.9,389.2 492.2,391.4 492.5,393.4 492.8,395.1 493.1,396.5 493.4,397.6 493.6,398.5 493.9,399.3 494.2,400.1 494.5,401.0 494.8,401.9 495.1,402.7 495.5,403.4 495.8,404.1 496.2,404.7 496.5,405.1 496.9,405.5 497.3,405.8 497.8,406.1 498.1,406.3 498.2,406.5 498.5,406.6 499.3,406.6 500.8,406.7 503.6,406.8 507.5,406.8 511.7,406.8 515.5,406.8 518.1,406.8" fill="none" stroke="#8f8f8f" stroke-width="1.5" stroke-linejoin="round" stroke-linecap="round"/>
<line x1="435.30" y1="385.00" x2="471.90" y2="385.00" stroke="#a4a4a4" stroke-width="0.9"/>
<line x1="435.30" y1="383.40" x2="435.30" y2="386.60" stroke="#a4a4a4" stroke-width="0.9"/>
<line x1="471.90" y1="383.40" x2="471.90" y2="386.60" stroke="#a4a4a4" stroke-width="0.9"/>
<text x="445.0" y="381.7" font-size="8.4" font-weight="bold" fill="#111" stroke="#111" stroke-width="0.30" textLength="21.0" lengthAdjust="spacingAndGlyphs">16.3%</text>
<polyline points="428.2,406.8 434.1,406.8 442.4,406.8 449.0,406.7 452.2,406.6 453.9,406.4 455.2,406.1 456.7,405.7 457.9,405.1 459.0,404.5 460.1,403.8 461.1,403.0 462.0,401.9 462.7,400.6 463.4,399.1 464.0,397.1 464.7,394.4 465.4,391.2 466.0,388.1 466.5,385.3 467.0,382.7 467.5,380.1 468.0,377.6 468.5,375.1 469.0,372.5 469.5,369.8 469.9,367.0 470.4,364.1 470.9,361.1 471.4,358.0 471.9,355.1 472.3,352.5 472.8,350.2 473.2,348.1 473.6,346.2 474.1,344.6 474.5,343.1 475.0,341.5 475.4,340.0 475.8,339.1 476.1,339.2 476.4,339.8 476.6,339.9 476.8,339.1 477.1,337.8 477.4,336.7 477.8,336.1 478.2,335.6 478.7,335.1 479.1,334.3 479.6,333.5 480.0,332.5 480.4,331.4 480.9,330.2 481.3,329.1 481.7,327.9 482.2,326.8 482.6,326.3 483.0,326.5 483.3,327.2 483.6,328.6 483.9,331.0 484.3,334.1 484.6,337.1 484.9,339.6 485.2,342.0 485.6,345.1 486.0,349.3 486.5,354.1 487.0,359.1 487.5,364.3 488.0,369.6 488.5,374.5 489.0,378.8 489.5,382.7 490.0,386.1 490.5,389.1 490.9,391.6 491.4,393.9 491.9,396.0 492.4,398.0 492.9,399.7 493.4,401.2 493.9,402.6 494.4,403.7 494.9,404.6 495.4,405.2 496.0,405.7 496.1,406.1 496.2,406.4 498.3,406.6 504.3,406.7 512.3,406.8 518.1,406.8" fill="none" stroke="#000" stroke-width="2.0" stroke-linejoin="round" stroke-linecap="round"/>
<polyline points="332.4,505.5 340.2,505.5 351.6,505.5 364.4,505.6 375.9,505.5 384.0,505.4 387.8,505.2 388.9,504.9 388.5,504.6 387.6,504.2 387.4,503.6 387.8,502.9 388.1,502.0 388.2,501.1 388.4,500.0 388.6,498.8 388.8,497.6 389.0,496.3 389.1,494.9 389.3,493.2 389.5,491.3 389.7,489.0 389.9,486.5 390.1,483.8 390.3,480.8 390.5,477.8 390.7,474.7 390.9,471.4 391.1,467.9 391.3,464.3 391.5,460.6 391.7,456.6 391.9,452.3 392.1,448.0 392.3,443.8 392.5,439.8 392.7,435.6 392.9,431.2 393.2,427.1 393.4,424.1 393.6,423.0 393.8,424.1 394.0,427.1 394.3,431.2 394.5,435.6 394.7,439.8 394.9,443.7 395.1,447.9 395.2,452.2 395.4,456.5 395.6,460.6 395.8,464.7 396.0,468.8 396.2,472.8 396.4,476.5 396.6,479.8 396.8,482.7 397.0,485.3 397.2,487.5 397.5,489.5 397.7,491.3 397.9,492.7 398.2,493.8 398.4,494.7 398.7,495.4 399.0,496.2 399.3,497.0 399.7,497.7 400.0,498.3 400.4,498.9 400.7,499.6 401.0,500.3 401.2,501.1 401.5,501.9 401.7,502.6 402.0,503.2 402.0,503.7 401.7,504.1 401.5,504.5 402.0,504.8 403.4,505.0 406.4,505.2 410.8,505.3 415.5,505.4 419.8,505.5 422.7,505.5" fill="none" stroke="#8a8a8a" stroke-width="1.3" stroke-linejoin="round" stroke-linecap="round"/>
<line x1="346.50" y1="484.30" x2="390.00" y2="484.30" stroke="#a4a4a4" stroke-width="0.9"/>
<line x1="346.50" y1="482.70" x2="346.50" y2="485.90" stroke="#a4a4a4" stroke-width="0.9"/>
<line x1="390.00" y1="482.70" x2="390.00" y2="485.90" stroke="#a4a4a4" stroke-width="0.9"/>
<text x="357.7" y="481.8" font-size="8.4" font-weight="bold" fill="#111" stroke="#111" stroke-width="0.30" textLength="22.2" lengthAdjust="spacingAndGlyphs">45.2%</text>
<polyline points="332.4,505.5 343.4,505.5 358.6,505.5 370.0,505.4 373.6,505.3 373.3,505.2 373.1,505.0 374.3,504.8 375.5,504.5 376.5,504.2 377.3,503.8 377.8,503.4 378.4,502.6 379.0,501.5 379.5,500.0 380.0,498.3 380.5,496.3 381.0,494.1 381.5,491.5 382.0,488.5 382.4,485.2 382.8,481.8 383.2,478.3 383.6,474.7 384.0,471.0 384.4,467.4 384.7,463.7 385.0,459.8 385.3,455.3 385.5,450.5 385.8,446.4 386.1,443.4 386.4,441.1 386.7,438.8 387.0,436.4 387.2,434.1 387.5,432.1 387.8,430.6 388.2,429.4 388.5,428.3 388.8,426.9 389.2,425.7 389.5,425.6 389.8,427.4 390.1,430.3 390.3,433.8 390.5,437.6 390.7,442.0 390.9,446.4 391.2,450.9 391.4,455.5 391.7,459.8 391.9,463.8 392.2,467.5 392.5,471.0 392.9,474.2 393.3,477.0 393.8,479.8 394.4,482.5 395.0,485.0 395.6,487.4 396.2,489.5 396.7,491.4 397.2,493.2 397.7,494.8 398.2,496.2 398.7,497.6 399.2,498.9 399.7,500.1 400.2,501.2 400.7,502.1 401.2,502.9 401.7,503.6 402.2,504.1 402.8,504.5 403.4,504.8 403.7,505.1 404.1,505.3 406.0,505.4 411.1,505.5 417.8,505.5 422.7,505.5" fill="none" stroke="#000" stroke-width="2.0" stroke-linejoin="round" stroke-linecap="round"/>
<polygon points="480.4,504.8 482,500.3 483.2,494.3 484.4,494.3 484.2,504.8" fill="#c4c4c4"/>
<polyline points="428.2,505.5 435.7,505.5 446.8,505.6 459.0,505.6 470.2,505.5 478.0,505.4 481.7,505.2 482.8,504.9 482.4,504.6 481.6,504.0 481.5,503.3 482.0,502.4 482.4,501.5 482.8,500.3 483.2,498.8 483.5,496.8 483.8,494.3 484.1,491.4 484.3,488.2 484.6,484.6 484.8,480.8 485.0,476.6 485.2,472.1 485.4,467.3 485.6,462.4 485.8,457.8 486.0,453.2 486.2,448.5 486.4,443.9 486.6,439.6 486.8,435.8 487.0,432.2 487.2,428.7 487.5,425.7 487.7,423.6 487.9,422.8 488.1,423.6 488.3,425.7 488.6,428.7 488.8,432.2 489.0,435.8 489.2,439.6 489.4,443.9 489.6,448.5 489.8,453.2 490.0,457.8 490.2,462.5 490.5,467.3 490.7,472.1 490.9,476.7 491.2,480.8 491.5,484.4 491.7,487.8 492.0,490.8 492.3,493.5 492.6,495.8 492.9,497.7 493.3,499.2 493.6,500.4 494.0,501.5 494.4,502.4 494.6,503.2 494.5,503.9 494.6,504.4 495.3,504.9 497.0,505.2 500.4,505.4 505.1,505.5 510.3,505.5 514.9,505.5 518.1,505.5" fill="none" stroke="#9a9a9a" stroke-width="1.0" stroke-linejoin="round" stroke-linecap="round"/>
<line x1="439.20" y1="483.40" x2="479.70" y2="483.40" stroke="#a4a4a4" stroke-width="0.9"/>
<line x1="439.20" y1="481.80" x2="439.20" y2="485.00" stroke="#a4a4a4" stroke-width="0.9"/>
<line x1="479.70" y1="481.80" x2="479.70" y2="485.00" stroke="#a4a4a4" stroke-width="0.9"/>
<text x="450.3" y="480.6" font-size="8.4" font-weight="bold" fill="#111" stroke="#111" stroke-width="0.30" textLength="21.6" lengthAdjust="spacingAndGlyphs">6.33%</text>
<polyline points="428.2,505.5 437.2,505.5 449.6,505.5 459.0,505.4 462.3,505.3 462.7,505.2 463.0,505.0 464.3,504.8 465.7,504.6 467.0,504.4 468.3,504.2 469.6,504.0 470.9,503.8 472.1,503.5 473.3,503.2 474.5,502.8 475.6,502.4 476.7,502.0 477.7,501.5 478.4,501.1 479.1,500.6 479.6,500.0 480.1,499.3 480.6,498.5 481.0,497.5 481.4,496.3 481.8,494.9 482.2,493.3 482.7,491.8 483.2,490.1 483.6,487.8 483.9,484.8 484.2,481.2 484.5,476.8 484.9,471.3 485.2,465.0 485.6,458.5 485.9,451.6 486.3,444.5 486.6,437.8 486.9,430.9 487.2,424.4 487.5,421.6 487.8,424.4 488.2,430.9 488.5,437.8 488.8,444.5 489.2,451.6 489.5,458.5 489.8,465.0 490.2,471.3 490.5,476.8 490.8,481.1 491.1,484.6 491.4,487.8 491.8,490.9 492.2,493.8 492.6,496.3 493.0,498.4 493.5,500.1 494.0,501.5 494.5,502.6 495.1,503.4 495.6,504.1 495.5,504.6 495.3,504.9 497.3,505.2 503.6,505.4 512.0,505.5 518.1,505.5" fill="none" stroke="#000" stroke-width="2.0" stroke-linejoin="round" stroke-linecap="round"/>
<text x="401.5" y="533.2" font-size="9.3" font-weight="bold" fill="#111" stroke="#111" stroke-width="0.33" textLength="27.5" lengthAdjust="spacingAndGlyphs">PKH26</text>
<line x1="430.60" y1="529.70" x2="457.50" y2="529.70" stroke="#111" stroke-width="1.3"/>
<polygon points="460.4,529.7 456,527.5 456,531.9" fill="#111"/>
</svg>
</body>
</html>
